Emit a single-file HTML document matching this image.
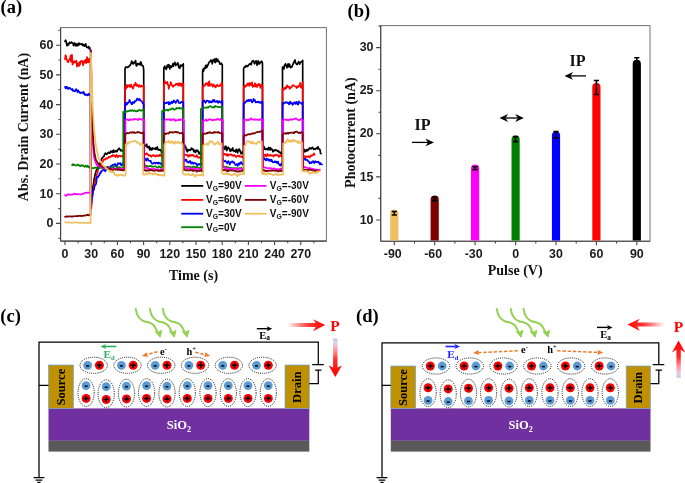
<!DOCTYPE html>
<html><head><meta charset="utf-8"><title>figure</title>
<style>html,body{margin:0;padding:0;background:#fff}svg{display:block}</style></head>
<body><svg width="685" height="483" viewBox="0 0 685 483">
<rect width="685" height="483" fill="#fff"/>
<rect x="60.6" y="27.6" width="265.79999999999995" height="213.5" fill="none" stroke="#707070" stroke-width="1"/>
<line x1="60.6" y1="27.6" x2="60.6" y2="241.1" stroke="#454545" stroke-width="1.1"/>
<line x1="60.6" y1="241.1" x2="326.4" y2="241.1" stroke="#454545" stroke-width="1.1"/>
<path d="M56.0 223.4H60.6 M56.0 193.7H60.6 M56.0 164.0H60.6 M56.0 134.3H60.6 M56.0 104.6H60.6 M56.0 74.9H60.6 M56.0 45.2H60.6 M58.4 238.2H60.6 M58.4 208.6H60.6 M58.4 178.8H60.6 M58.4 149.2H60.6 M58.4 119.5H60.6 M58.4 89.8H60.6 M58.4 60.0H60.6 M58.4 30.3H60.6 M65.0 241.1v4 M91.2 241.1v4 M117.4 241.1v4 M143.6 241.1v4 M169.8 241.1v4 M196.0 241.1v4 M222.2 241.1v4 M248.4 241.1v4 M274.6 241.1v4 M300.8 241.1v4 M78.1 241.1v2.2 M104.3 241.1v2.2 M130.5 241.1v2.2 M156.7 241.1v2.2 M182.9 241.1v2.2 M209.1 241.1v2.2 M235.3 241.1v2.2 M261.5 241.1v2.2 M287.7 241.1v2.2 M313.9 241.1v2.2" stroke="#454545" stroke-width="1.1" fill="none"/>
<g font-family='"Liberation Sans", sans-serif' font-weight="bold" font-size="12.4" fill="#1a1a1a">
<text x="53.4" y="227.4" text-anchor="end">0</text>
<text x="53.4" y="197.7" text-anchor="end">10</text>
<text x="53.4" y="168.0" text-anchor="end">20</text>
<text x="53.4" y="138.3" text-anchor="end">30</text>
<text x="53.4" y="108.6" text-anchor="end">40</text>
<text x="53.4" y="78.9" text-anchor="end">50</text>
<text x="53.4" y="49.2" text-anchor="end">60</text>
<text x="65.0" y="258" text-anchor="middle">0</text>
<text x="91.2" y="258" text-anchor="middle">30</text>
<text x="117.4" y="258" text-anchor="middle">60</text>
<text x="143.6" y="258" text-anchor="middle">90</text>
<text x="169.8" y="258" text-anchor="middle">120</text>
<text x="196.0" y="258" text-anchor="middle">150</text>
<text x="222.2" y="258" text-anchor="middle">180</text>
<text x="248.4" y="258" text-anchor="middle">210</text>
<text x="274.6" y="258" text-anchor="middle">240</text>
<text x="300.8" y="258" text-anchor="middle">270</text>
</g>
<text x="193.5" y="280.3" text-anchor="middle" font-family='"Liberation Serif", serif' font-weight="bold" font-size="14" fill="#111">Time (s)</text>
<text transform="translate(28.2 127) rotate(-90)" text-anchor="middle" font-family='"Liberation Serif", serif' font-weight="bold" font-size="14" fill="#111">Abs. Drain Current (nA)</text>
<path d="M65.0 41.4 65.5 40.2 66.0 40.6 66.5 43.5 67.0 45.7 67.5 43.9 68.0 44.3 68.5 45.0 69.0 43.2 69.5 42.3 70.0 42.9 70.5 43.1 71.0 43.1 71.5 42.0 72.0 42.5 72.5 43.0 73.0 43.2 73.5 45.6 74.0 43.7 74.5 43.1 75.0 43.1 75.5 45.8 76.0 45.6 76.5 44.0 77.0 45.9 77.5 45.1 78.1 43.6 78.6 45.3 79.1 43.2 79.6 43.4 80.1 44.2 80.6 44.2 81.1 44.0 81.6 44.5 82.1 43.7 82.6 45.2 83.1 45.7 83.6 44.5 84.1 45.0 84.6 46.2 85.1 45.0 85.6 43.8 86.1 45.3 86.6 47.2 87.1 47.2 87.6 47.4 88.1 47.8 88.6 46.5 89.1 48.6 89.6 47.4 90.1 49.7 90.6 50.6 90.8 197.0 91.2 197.2 91.7 193.1 92.2 190.3 92.7 187.5 93.2 185.4 93.7 182.5 94.2 178.8 94.7 176.6 95.2 173.9 95.7 172.5 96.2 170.8 96.7 169.4 97.2 169.6 97.7 166.9 98.2 165.2 98.7 163.8 99.2 164.6 99.7 164.5 100.1 163.3 100.6 161.9 101.1 160.1 101.6 159.2 102.1 157.9 102.6 158.0 103.1 157.0 103.6 156.1 104.1 156.3 104.6 154.1 105.1 153.9 105.6 153.0 106.1 154.0 106.6 154.4 107.1 154.1 107.6 153.6 108.1 152.6 108.6 152.3 109.1 152.7 109.6 153.2 110.1 153.0 110.6 151.2 111.1 152.1 111.6 151.5 112.1 151.0 112.6 152.4 113.1 151.6 113.6 150.1 114.1 152.2 114.6 151.7 115.1 151.2 115.6 151.6 116.1 150.5 116.5 150.5 117.0 151.7 117.5 150.2 118.0 149.6 118.5 149.0 119.0 148.2 119.5 148.8 120.0 149.3 120.5 150.8 121.0 149.8 121.5 150.4 122.0 150.5 122.5 151.3 123.0 151.4 123.5 151.0 124.0 149.2 124.5 151.3 125.0 151.8 125.0 68.7 125.5 67.3 126.0 66.9 126.5 67.2 127.0 67.4 127.5 67.4 128.0 66.7 128.5 67.1 129.0 66.4 129.5 65.4 130.1 65.4 130.6 64.2 131.1 63.6 131.6 61.2 132.1 62.2 132.6 63.5 133.1 64.0 133.6 63.6 134.1 62.0 134.6 62.9 135.1 62.6 135.6 60.5 136.1 65.4 136.6 66.0 137.1 64.5 137.6 63.6 138.1 63.5 138.6 64.5 139.2 63.6 139.7 63.7 140.2 65.0 140.7 61.8 141.2 63.0 141.7 65.0 142.2 65.4 142.7 65.9 143.2 66.0 143.7 69.8 143.7 145.5 144.2 144.4 144.7 146.3 145.2 146.2 145.7 145.2 146.2 144.9 146.7 144.2 147.2 147.3 147.7 147.6 148.2 147.8 148.7 147.1 149.2 146.3 149.7 149.9 150.2 147.8 150.7 149.6 151.2 148.3 151.7 150.0 152.2 149.2 152.7 147.9 153.2 148.7 153.8 148.8 154.3 148.3 154.8 148.7 155.3 149.3 155.8 147.9 156.3 147.8 156.8 149.2 157.3 146.8 157.8 149.7 158.3 149.1 158.8 150.0 159.3 150.2 159.8 149.7 160.3 150.0 160.8 149.8 161.3 152.0 161.8 153.2 162.3 151.6 162.8 152.5 163.3 153.1 163.8 153.9 163.8 67.9 164.3 67.4 164.8 66.1 165.3 68.4 165.8 68.2 166.3 69.5 166.8 67.4 167.3 65.2 167.8 67.2 168.3 65.0 168.8 64.7 169.3 66.0 169.8 69.0 170.3 66.0 170.8 66.4 171.3 67.3 171.8 66.3 172.3 65.7 172.8 63.9 173.3 66.3 173.8 64.5 174.3 63.1 174.8 62.3 175.3 64.1 175.8 65.6 176.3 64.1 176.8 64.4 177.3 64.6 177.8 62.9 178.3 64.2 178.8 67.6 179.3 66.7 179.8 68.3 180.3 65.7 180.8 65.1 181.3 66.1 181.8 65.9 182.3 64.8 182.8 65.3 183.3 63.9 183.3 147.4 183.8 146.5 184.3 145.7 184.8 145.2 185.3 147.4 185.8 147.0 186.3 149.8 186.8 150.4 187.3 151.8 187.8 149.4 188.2 150.6 188.7 150.0 189.2 150.0 189.7 149.9 190.2 150.4 190.7 149.9 191.2 148.1 191.7 149.1 192.2 149.1 192.7 148.7 193.2 149.8 193.7 151.5 194.2 151.7 194.7 150.2 195.2 152.3 195.7 152.3 196.2 150.7 196.7 150.2 197.2 150.9 197.7 150.4 198.1 150.9 198.6 152.6 199.1 153.9 199.6 153.7 200.1 152.0 200.6 152.8 201.1 153.6 201.6 153.9 202.1 154.9 202.6 154.0 202.6 71.1 203.1 69.0 203.6 71.2 204.1 68.2 204.6 67.6 205.1 68.6 205.6 65.4 206.1 65.2 206.6 67.6 207.1 66.9 207.7 64.9 208.2 64.8 208.7 63.0 209.2 62.0 209.7 61.5 210.2 61.6 210.7 60.2 211.2 60.3 211.7 60.5 212.2 63.9 212.7 61.5 213.2 59.7 213.7 60.8 214.2 61.7 214.7 59.0 215.2 62.7 215.7 61.6 216.2 58.5 216.7 61.5 217.2 61.1 217.8 59.4 218.3 61.5 218.8 61.7 219.3 61.6 219.8 64.0 220.3 64.2 220.8 63.9 221.3 63.1 221.8 64.0 222.3 64.8 222.3 148.4 222.8 148.4 223.3 147.2 223.8 147.5 224.3 148.7 224.8 149.4 225.3 146.2 225.8 146.3 226.3 146.9 226.8 150.7 227.3 149.3 227.7 148.8 228.2 147.4 228.7 148.0 229.2 148.9 229.7 148.8 230.2 151.3 230.7 149.6 231.2 149.5 231.7 150.6 232.2 149.0 232.7 147.8 233.2 150.6 233.7 151.3 234.2 150.7 234.7 150.6 235.2 151.2 235.7 152.1 236.2 149.4 236.7 149.3 237.2 151.6 237.7 152.9 238.2 150.5 238.6 150.0 239.1 149.0 239.6 149.5 240.1 151.6 240.6 151.4 241.1 153.9 241.6 153.7 242.1 152.9 242.6 151.9 243.1 152.8 243.6 152.6 243.6 68.3 244.1 67.7 244.6 66.8 245.1 66.6 245.6 67.1 246.1 65.5 246.6 65.5 247.1 66.5 247.6 66.5 248.1 65.6 248.6 65.1 249.1 64.4 249.6 64.0 250.1 63.5 250.6 63.5 251.1 64.8 251.6 63.1 252.1 61.2 252.6 60.9 253.1 61.5 253.5 60.7 254.0 62.1 254.5 63.9 255.0 62.1 255.5 62.7 256.0 60.8 256.5 62.3 257.0 65.2 257.5 64.6 258.0 60.8 258.5 61.5 259.0 63.5 259.5 63.9 260.0 62.6 260.5 62.1 261.0 62.5 261.5 61.2 262.0 61.8 262.5 63.2 262.5 147.3 263.0 146.2 263.5 146.4 264.0 146.6 264.5 149.0 265.0 149.3 265.5 148.7 266.0 149.6 266.5 148.7 267.0 148.9 267.5 148.8 268.0 149.9 268.5 147.5 269.0 147.8 269.5 149.4 270.0 150.0 270.5 147.7 271.0 149.6 271.5 149.3 272.0 149.1 272.5 150.0 273.0 151.8 273.5 151.2 274.0 150.8 274.5 149.9 275.0 149.8 275.5 150.5 276.0 150.1 276.5 150.2 277.0 150.7 277.5 151.1 278.0 151.5 278.5 150.8 279.0 152.3 279.5 152.6 280.0 152.0 280.5 153.3 281.0 152.9 281.5 154.3 282.0 153.6 282.5 152.0 282.5 67.0 283.0 67.2 283.5 67.3 284.0 68.9 284.5 65.1 285.0 64.9 285.5 63.8 286.0 65.8 286.5 65.7 287.0 67.8 287.6 65.3 288.1 63.8 288.6 66.8 289.1 65.7 289.6 64.2 290.1 66.6 290.6 67.7 291.1 67.3 291.6 66.3 292.1 66.9 292.6 65.1 293.1 63.9 293.6 62.7 294.1 61.9 294.6 60.4 295.1 60.0 295.6 63.0 296.1 63.4 296.6 64.3 297.1 64.6 297.6 63.4 298.2 62.6 298.7 61.5 299.2 63.6 299.7 64.2 300.2 62.7 300.7 62.2 301.2 62.0 301.7 61.5 302.2 62.1 302.7 60.3 302.7 148.2 303.2 148.5 303.7 149.3 304.2 149.3 304.7 151.9 305.2 151.4 305.7 150.2 306.2 151.2 306.7 150.0 307.2 149.4 307.6 150.6 308.1 150.0 308.6 149.6 309.1 148.6 309.6 147.9 310.1 148.1 310.6 149.0 311.1 148.7 311.6 148.4 312.1 147.3 312.6 147.3 313.1 148.2 313.6 149.4 314.1 148.9 314.6 149.0 315.1 149.4 315.6 148.5 316.1 148.4 316.5 147.9 317.0 147.7 317.5 148.8 318.0 146.8 318.5 148.7 319.0 148.5 319.5 149.7 320.0 149.5 320.5 153.3 321.0 153.7" fill="none" stroke="#000000" stroke-width="1.65" stroke-linejoin="round" stroke-linecap="round"/>
<path d="M65.0 59.4 65.5 55.0 66.0 56.2 66.5 58.7 67.0 60.3 67.5 61.3 68.0 62.3 68.5 61.3 69.0 59.7 69.5 59.1 70.0 59.0 70.5 55.5 71.0 61.6 71.5 61.2 72.0 54.7 72.5 64.6 73.0 63.5 73.5 61.8 74.0 61.6 74.5 61.1 75.0 62.7 75.5 61.7 76.0 62.2 76.5 60.7 77.0 66.8 77.5 65.6 78.1 63.3 78.6 65.4 79.1 65.9 79.6 62.0 80.1 64.4 80.6 61.7 81.1 60.8 81.6 61.5 82.1 61.0 82.6 62.2 83.1 65.4 83.6 62.6 84.1 60.8 84.6 62.6 85.1 61.8 85.6 59.6 86.1 63.1 86.6 60.3 87.1 57.0 87.6 62.1 88.1 61.6 88.6 62.3 89.1 58.5 89.6 60.7 90.1 59.9 90.6 63.6 90.8 208.8 91.2 208.7 91.7 203.8 92.2 198.4 92.7 195.2 93.2 191.4 93.7 188.3 94.2 185.4 94.7 182.9 95.2 181.0 95.7 178.6 96.2 177.4 96.7 174.7 97.2 173.8 97.7 171.9 98.2 169.2 98.7 168.7 99.2 167.7 99.7 166.1 100.1 165.5 100.6 165.3 101.1 164.1 101.6 163.0 102.1 162.1 102.6 162.2 103.1 160.5 103.6 159.5 104.1 159.7 104.6 159.5 105.1 159.6 105.6 158.4 106.1 158.9 106.6 158.2 107.1 158.4 107.6 158.6 108.1 157.7 108.6 156.8 109.1 157.0 109.6 157.5 110.1 156.7 110.6 156.8 111.1 156.6 111.6 155.7 112.1 155.4 112.6 156.2 113.1 154.9 113.6 155.6 114.1 155.4 114.6 156.1 115.1 156.1 115.6 157.1 116.1 155.4 116.5 154.8 117.0 156.1 117.5 156.8 118.0 157.2 118.5 155.8 119.0 156.0 119.5 155.9 120.0 155.9 120.5 155.9 121.0 156.4 121.5 156.0 122.0 156.6 122.5 156.1 123.0 155.6 123.5 155.3 124.0 155.5 124.5 156.1 125.0 155.7 125.0 86.8 125.5 86.7 126.0 88.6 126.5 85.7 127.0 84.9 127.5 87.5 128.0 85.8 128.5 85.9 129.0 85.2 129.5 84.9 130.1 87.1 130.6 86.7 131.1 84.5 131.6 85.9 132.1 87.1 132.6 88.2 133.1 88.6 133.6 87.0 134.1 84.6 134.6 84.8 135.1 85.1 135.6 82.7 136.1 84.8 136.6 85.9 137.1 85.0 137.6 84.5 138.1 86.0 138.6 86.9 139.2 85.6 139.7 85.1 140.2 86.8 140.7 86.4 141.2 86.7 141.7 85.7 142.2 86.0 142.7 86.1 143.2 86.6 143.7 85.2 143.7 153.0 144.2 153.8 144.7 153.4 145.2 154.3 145.7 154.3 146.2 153.9 146.7 153.2 147.2 154.2 147.7 154.5 148.2 154.5 148.7 155.7 149.2 155.3 149.7 155.6 150.2 155.1 150.7 155.9 151.2 156.8 151.7 156.0 152.2 155.5 152.7 155.8 153.2 155.0 153.8 155.4 154.3 155.8 154.8 155.4 155.3 156.5 155.8 156.5 156.3 156.1 156.8 155.3 157.3 155.7 157.8 155.5 158.3 156.2 158.8 155.9 159.3 154.9 159.8 155.9 160.3 154.5 160.8 155.8 161.3 156.0 161.8 156.1 162.3 155.6 162.8 156.9 163.3 158.1 163.8 157.0 163.8 84.1 164.3 83.7 164.8 81.1 165.3 82.7 165.8 83.4 166.3 82.9 166.8 83.3 167.3 81.9 167.8 84.7 168.3 85.0 168.8 88.8 169.3 85.8 169.8 85.7 170.3 84.2 170.8 82.1 171.3 83.6 171.8 84.8 172.3 85.7 172.8 86.6 173.3 86.9 173.8 85.4 174.3 85.3 174.8 85.2 175.3 85.3 175.8 84.0 176.3 83.8 176.8 84.4 177.3 83.7 177.8 84.2 178.3 85.6 178.8 83.3 179.3 83.4 179.8 85.2 180.3 83.6 180.8 83.8 181.3 86.2 181.8 83.6 182.3 83.9 182.8 83.4 183.3 84.0 183.3 154.6 183.8 155.6 184.3 154.6 184.8 154.7 185.3 155.0 185.8 154.8 186.3 154.9 186.8 154.6 187.3 155.2 187.8 155.3 188.2 156.8 188.7 156.5 189.2 155.6 189.7 154.8 190.2 155.6 190.7 155.9 191.2 154.9 191.7 155.7 192.2 155.5 192.7 154.8 193.2 155.6 193.7 155.2 194.2 156.4 194.7 156.4 195.2 156.6 195.7 156.7 196.2 156.1 196.7 155.0 197.2 156.5 197.7 157.3 198.1 157.0 198.6 157.9 199.1 157.4 199.6 157.1 200.1 157.6 200.6 157.3 201.1 158.6 201.6 157.8 202.1 158.9 202.6 159.0 202.6 86.8 203.1 86.9 203.6 85.3 204.1 85.4 204.6 86.0 205.1 85.1 205.6 83.3 206.1 84.3 206.6 84.2 207.1 83.1 207.7 83.7 208.2 86.0 208.7 82.6 209.2 81.3 209.7 85.7 210.2 85.6 210.7 85.0 211.2 84.1 211.7 84.0 212.2 85.2 212.7 86.6 213.2 85.8 213.7 84.3 214.2 85.9 214.7 86.7 215.2 85.8 215.7 87.5 216.2 86.3 216.7 85.9 217.2 84.6 217.8 85.4 218.3 86.1 218.8 86.0 219.3 85.5 219.8 86.1 220.3 85.7 220.8 84.6 221.3 83.6 221.8 82.6 222.3 85.1 222.3 153.6 222.8 155.2 223.3 153.2 223.8 154.0 224.3 154.0 224.8 153.7 225.3 154.8 225.8 154.3 226.3 154.4 226.8 155.6 227.3 155.0 227.7 154.1 228.2 155.7 228.7 154.9 229.2 154.9 229.7 154.8 230.2 154.7 230.7 154.2 231.2 155.0 231.7 154.7 232.2 155.4 232.7 155.1 233.2 156.0 233.7 156.0 234.2 154.9 234.7 155.2 235.2 155.8 235.7 156.7 236.2 157.0 236.7 156.6 237.2 155.9 237.7 155.9 238.2 155.8 238.6 156.2 239.1 155.5 239.6 156.3 240.1 156.8 240.6 156.2 241.1 156.4 241.6 156.8 242.1 157.1 242.6 157.2 243.1 156.6 243.6 156.5 243.6 87.6 244.1 86.3 244.6 85.8 245.1 86.9 245.6 85.3 246.1 85.7 246.6 85.9 247.1 84.6 247.6 83.3 248.1 84.9 248.6 84.4 249.1 85.8 249.6 82.8 250.1 84.6 250.6 83.6 251.1 85.3 251.6 84.4 252.1 82.3 252.6 87.0 253.1 86.8 253.5 85.6 254.0 85.6 254.5 86.3 255.0 83.2 255.5 84.1 256.0 86.6 256.5 84.8 257.0 87.0 257.5 84.6 258.0 85.5 258.5 85.2 259.0 83.7 259.5 84.3 260.0 86.5 260.5 88.0 261.0 85.3 261.5 84.5 262.0 86.0 262.5 84.8 262.5 154.8 263.0 154.5 263.5 156.4 264.0 156.0 264.5 155.1 265.0 154.7 265.5 154.5 266.0 156.6 266.5 155.9 267.0 155.4 267.5 153.8 268.0 155.3 268.5 155.7 269.0 155.7 269.5 155.1 270.0 155.6 270.5 154.8 271.0 155.7 271.5 155.4 272.0 155.7 272.5 155.4 273.0 155.8 273.5 156.6 274.0 155.2 274.5 155.0 275.0 155.4 275.5 155.1 276.0 154.5 276.5 155.5 277.0 155.5 277.5 155.1 278.0 155.0 278.5 155.6 279.0 157.0 279.5 155.6 280.0 155.6 280.5 155.8 281.0 156.1 281.5 156.0 282.0 156.4 282.5 157.1 282.5 88.8 283.0 89.0 283.5 89.0 284.0 89.6 284.5 87.8 285.0 89.1 285.5 87.3 286.0 88.4 286.5 87.2 287.0 85.4 287.6 85.8 288.1 87.1 288.6 86.9 289.1 86.7 289.6 88.8 290.1 88.5 290.6 87.4 291.1 87.7 291.6 87.1 292.1 86.1 292.6 85.5 293.1 85.0 293.6 85.0 294.1 86.0 294.6 86.1 295.1 86.4 295.6 86.6 296.1 86.4 296.6 88.1 297.1 87.2 297.6 86.4 298.2 87.1 298.7 86.3 299.2 85.2 299.7 85.4 300.2 82.9 300.7 87.1 301.2 86.4 301.7 87.9 302.2 85.3 302.7 82.0 302.7 157.3 303.2 156.6 303.7 156.0 304.2 156.3 304.7 156.0 305.2 157.8 305.6 156.7 306.1 156.5 306.6 156.8 307.1 157.1 307.6 156.3 308.1 156.6 308.6 156.2 309.1 156.4 309.6 157.6 310.1 156.7 310.6 156.0 311.1 155.3 311.6 155.9 312.0 155.7 312.5 155.1 313.0 155.1 313.5 154.3 314.0 153.4 314.5 154.8" fill="none" stroke="#FF0000" stroke-width="1.65" stroke-linejoin="round" stroke-linecap="round"/>
<path d="M65.0 86.9 65.5 88.3 66.0 88.5 66.5 86.7 67.0 86.8 67.5 87.7 68.0 89.0 68.5 88.9 69.0 87.8 69.5 88.2 70.0 87.9 70.5 88.8 71.0 89.0 71.5 89.8 72.0 89.7 72.5 88.9 73.0 91.0 73.5 90.9 74.0 90.6 74.5 91.3 75.0 91.4 75.5 90.6 76.0 89.1 76.5 89.7 77.0 90.3 77.5 92.3 78.1 90.3 78.6 91.0 79.1 91.5 79.6 92.8 80.1 92.5 80.6 93.4 81.1 92.8 81.6 92.3 82.1 92.4 82.6 92.3 83.1 93.4 83.6 91.9 84.1 93.1 84.6 94.8 85.1 94.2 85.6 94.5 86.1 95.1 86.6 94.9 87.1 94.3 87.6 95.5 88.1 95.2 88.6 93.8 89.1 93.9 89.6 94.8 90.1 95.1 90.6 95.6 90.8 203.2 91.2 204.9 91.7 200.2 92.2 196.0 92.7 193.2 93.2 190.8 93.7 189.9 94.2 188.6 94.7 185.7 95.2 185.0 95.7 184.8 96.2 183.3 96.7 178.8 97.2 176.5 97.7 177.2 98.2 177.1 98.7 175.7 99.2 175.5 99.7 173.2 100.1 172.9 100.6 173.4 101.1 171.2 101.6 171.5 102.1 170.7 102.6 170.3 103.1 170.1 103.6 169.3 104.1 169.6 104.6 170.6 105.1 171.3 105.6 170.7 106.1 169.8 106.6 168.6 107.1 167.8 107.6 166.8 108.1 166.7 108.6 167.3 109.1 167.5 109.6 168.7 110.1 167.6 110.6 166.4 111.1 165.6 111.6 165.8 112.1 165.9 112.6 164.9 113.1 165.2 113.6 164.7 114.1 164.5 114.6 164.7 115.1 163.8 115.6 165.0 116.1 165.4 116.5 166.0 117.0 166.2 117.5 164.2 118.0 163.1 118.5 164.0 119.0 164.0 119.5 163.4 120.0 163.4 120.5 163.1 121.0 165.1 121.5 165.5 122.0 164.8 122.5 163.5 123.0 164.0 123.5 165.2 124.0 165.3 124.5 165.6 125.0 165.9 125.0 103.5 125.5 102.6 126.0 102.8 126.5 104.9 127.0 103.7 127.5 103.8 128.0 102.3 128.5 102.6 129.0 102.0 129.5 99.8 130.1 101.5 130.6 102.4 131.1 103.0 131.6 104.2 132.1 104.2 132.6 102.2 133.1 102.0 133.6 102.9 134.1 103.0 134.6 101.2 135.1 101.6 135.6 101.4 136.1 100.8 136.6 99.6 137.1 98.5 137.6 98.8 138.1 99.8 138.6 100.2 139.2 99.1 139.7 98.9 140.2 100.5 140.7 100.6 141.2 100.9 141.7 101.3 142.2 102.1 142.7 103.3 143.2 103.2 143.7 104.2 143.7 157.7 144.2 158.0 144.7 159.6 145.2 158.5 145.7 158.5 146.2 160.7 146.7 159.1 147.2 159.1 147.7 158.4 148.2 160.5 148.7 160.4 149.2 160.6 149.7 160.9 150.2 161.2 150.7 160.8 151.2 162.5 151.7 163.2 152.2 163.8 152.7 163.5 153.2 163.5 153.8 162.8 154.3 162.6 154.8 162.7 155.3 163.4 155.8 163.6 156.3 162.8 156.8 162.5 157.3 163.0 157.8 163.5 158.3 162.5 158.8 163.6 159.3 163.2 159.8 162.8 160.3 163.6 160.8 163.3 161.3 164.6 161.8 163.7 162.3 163.9 162.8 165.4 163.3 164.5 163.8 165.3 163.8 102.3 164.3 103.3 164.8 103.3 165.3 102.9 165.8 103.1 166.3 102.7 166.8 103.1 167.3 102.2 167.8 102.2 168.3 102.0 168.8 104.5 169.3 102.4 169.8 102.4 170.3 104.0 170.8 103.2 171.3 102.5 171.8 101.6 172.3 103.1 172.8 101.6 173.3 102.4 173.8 100.4 174.3 101.6 174.8 101.4 175.3 102.2 175.8 103.1 176.3 101.6 176.8 100.9 177.3 100.0 177.8 100.1 178.3 101.3 178.8 103.0 179.3 103.0 179.8 103.0 180.3 103.2 180.8 102.1 181.3 101.8 181.8 102.2 182.3 102.0 182.8 102.2 183.3 102.1 183.3 158.7 183.8 158.5 184.3 159.7 184.8 161.1 185.3 159.7 185.8 160.1 186.3 159.6 186.8 161.6 187.3 161.7 187.8 161.6 188.2 162.7 188.7 162.8 189.2 161.9 189.7 161.4 190.2 160.8 190.7 162.3 191.2 163.6 191.7 162.9 192.2 162.3 192.7 162.6 193.2 163.9 193.7 163.1 194.2 162.8 194.7 162.8 195.2 163.7 195.7 163.6 196.2 163.3 196.7 164.2 197.2 165.6 197.7 164.7 198.1 164.2 198.6 164.4 199.1 163.9 199.6 164.7 200.1 164.8 200.6 165.1 201.1 164.6 201.6 163.7 202.1 164.6 202.6 163.4 202.6 101.5 203.1 101.3 203.6 101.4 204.1 100.3 204.6 101.4 205.1 101.8 205.6 102.9 206.1 101.9 206.6 100.6 207.1 100.6 207.7 100.7 208.2 101.3 208.7 101.2 209.2 102.6 209.7 101.0 210.2 101.5 210.7 102.3 211.2 102.4 211.7 102.5 212.2 101.0 212.7 100.0 213.2 101.7 213.7 100.4 214.2 99.8 214.7 100.8 215.2 102.0 215.7 102.0 216.2 101.8 216.7 100.8 217.2 100.9 217.8 102.6 218.3 101.5 218.8 102.6 219.3 101.0 219.8 102.1 220.3 102.3 220.8 102.6 221.3 102.5 221.8 100.9 222.3 100.6 222.3 158.8 222.8 159.0 223.3 160.6 223.8 160.7 224.3 160.9 224.8 161.4 225.3 160.7 225.8 161.3 226.3 161.8 226.8 162.3 227.3 163.4 227.7 162.1 228.2 161.1 228.7 161.5 229.2 162.6 229.7 164.6 230.2 163.4 230.7 162.1 231.2 162.3 231.7 161.9 232.2 161.4 232.7 161.4 233.2 162.7 233.7 162.3 234.2 162.3 234.7 164.1 235.2 164.3 235.7 165.2 236.2 164.7 236.7 164.0 237.2 164.8 237.7 166.0 238.2 164.1 238.6 163.9 239.1 163.0 239.6 164.6 240.1 163.7 240.6 162.5 241.1 162.0 241.6 163.4 242.1 163.7 242.6 164.3 243.1 163.7 243.6 163.4 243.6 102.7 244.1 103.9 244.6 102.5 245.1 102.8 245.6 101.9 246.1 101.8 246.6 100.4 247.1 100.1 247.6 101.3 248.1 101.1 248.6 99.7 249.1 101.1 249.6 100.9 250.1 100.0 250.6 99.5 251.1 99.9 251.6 101.7 252.1 102.5 252.6 101.6 253.1 100.9 253.5 98.8 254.0 100.8 254.5 100.0 255.0 100.0 255.5 102.2 256.0 102.6 256.5 101.9 257.0 102.2 257.5 102.1 258.0 101.5 258.5 102.4 259.0 101.8 259.5 102.6 260.0 102.9 260.5 102.2 261.0 102.9 261.5 102.5 262.0 101.3 262.5 102.1 262.5 158.2 263.0 157.8 263.5 158.5 264.0 157.9 264.5 159.5 265.0 159.0 265.5 159.7 266.0 160.4 266.5 158.9 267.0 160.2 267.5 159.1 268.0 159.4 268.5 159.1 269.0 160.9 269.5 160.2 270.0 159.7 270.5 160.7 271.0 161.3 271.5 159.7 272.0 160.7 272.5 161.7 273.0 162.4 273.5 162.0 274.0 162.0 274.5 162.2 275.0 161.2 275.5 162.3 276.0 162.3 276.5 161.6 277.0 163.1 277.5 162.4 278.0 161.5 278.5 163.4 279.0 164.3 279.5 164.7 280.0 165.5 280.5 164.3 281.0 165.4 281.5 164.3 282.0 163.1 282.5 164.8 282.5 103.1 283.0 104.6 283.5 102.9 284.0 103.4 284.5 103.2 285.0 102.8 285.5 102.1 286.0 102.5 286.5 102.4 287.0 102.8 287.6 102.4 288.1 103.4 288.6 102.8 289.1 104.4 289.6 103.9 290.1 101.5 290.6 102.0 291.1 103.5 291.6 102.9 292.1 103.7 292.6 104.8 293.1 104.4 293.6 102.9 294.1 102.4 294.6 102.5 295.1 103.3 295.6 103.8 296.1 101.9 296.6 101.9 297.1 102.9 297.6 104.4 298.2 104.6 298.7 101.3 299.2 102.9 299.7 102.8 300.2 102.5 300.7 102.7 301.2 103.0 301.7 104.1 302.2 104.4 302.7 102.1 302.7 158.6 303.2 157.9 303.7 159.6 304.2 159.5 304.7 159.2 305.2 158.5 305.7 159.9 306.2 159.5 306.7 159.5 307.2 160.5 307.6 160.2 308.1 161.2 308.6 161.7 309.1 161.5 309.6 163.4 310.1 162.4 310.6 162.6 311.1 163.2 311.6 162.7 312.1 161.6 312.6 162.0 313.1 161.0 313.6 162.3 314.1 163.2 314.6 161.5 315.1 161.6 315.6 161.2 316.1 162.4 316.6 161.9 317.1 162.0 317.5 161.9 318.0 162.3 318.5 161.7 319.0 162.8 319.5 163.6 320.0 164.5 320.5 163.0 321.0 163.7 321.5 164.3 322.0 164.6" fill="none" stroke="#0000FF" stroke-width="1.65" stroke-linejoin="round" stroke-linecap="round"/>
<path d="M72.0 164.9 72.5 165.1 73.0 164.0 73.5 164.7 74.0 165.1 74.5 164.6 75.0 164.9 75.5 165.1 76.0 165.4 76.5 165.7 77.0 164.9 77.5 164.7 78.0 164.4 78.5 165.1 79.0 165.3 79.5 165.9 80.0 165.4 80.5 166.2 81.0 165.7 81.6 165.3 82.1 165.0 82.6 165.9 83.1 165.5 83.6 166.1 84.1 166.4 84.6 166.9 85.1 166.1 85.6 165.5 86.1 166.3 86.6 166.8 87.1 166.9 87.6 165.7 88.1 165.9 88.6 166.7 89.1 167.7 89.6 167.7 90.1 167.0 90.6 166.3 91.0 167.8 91.5 168.2 92.0 168.0 92.5 168.1 93.0 168.1 93.5 168.2 94.0 167.9 94.5 167.9 95.0 167.7 95.5 167.5 96.0 167.4 96.5 168.5 97.0 168.2 97.5 168.3 98.0 167.6 98.5 168.3 99.0 168.2 99.6 168.0 100.1 167.9 100.6 167.3 101.1 167.6 101.6 167.2 102.1 168.0 102.6 168.6 103.1 167.5 103.6 167.4 104.1 167.2 104.6 167.3 105.1 167.2 105.6 167.9 106.1 167.3 106.6 167.7 107.1 167.2 107.6 167.3 108.1 168.3 108.6 168.5 109.1 167.5 109.6 167.6 110.1 167.8 110.6 167.6 111.1 167.7 111.6 167.9 112.1 167.7 112.6 167.6 113.1 166.9 113.6 167.2 114.1 166.5 114.6 166.3 115.2 166.1 115.7 166.4 116.2 166.9 116.7 167.2 117.2 167.4 117.7 167.8 118.2 167.7 118.7 167.9 119.2 167.0 119.7 167.1 120.2 167.5 120.7 168.4 121.2 168.0 121.7 168.0 122.2 168.2 122.7 168.4 123.2 169.0 123.2 111.8 123.7 111.9 124.2 111.9 124.7 112.3 125.2 111.5 125.7 111.7 126.2 111.0 126.7 111.6 127.2 111.7 127.7 111.2 128.2 111.3 128.7 110.7 129.2 110.6 129.7 111.0 130.2 110.5 130.7 110.2 131.2 111.1 131.7 110.2 132.2 110.2 132.7 110.1 133.2 111.0 133.7 111.0 134.2 110.9 134.7 110.3 135.2 111.0 135.7 111.1 136.2 111.5 136.7 111.1 137.2 110.7 137.7 111.2 138.2 111.0 138.7 110.5 139.2 109.8 139.7 109.8 140.2 110.1 140.7 110.6 141.2 110.7 141.7 110.6 142.2 110.3 142.7 110.1 143.2 109.5 143.7 109.6 143.7 165.6 144.2 164.9 144.7 164.9 145.2 165.2 145.7 165.7 146.2 166.4 146.7 166.5 147.2 165.9 147.7 166.3 148.2 166.7 148.6 166.4 149.1 166.3 149.6 166.1 150.1 166.1 150.6 165.8 151.1 166.5 151.6 166.2 152.1 166.8 152.6 166.5 153.1 166.6 153.6 166.6 154.1 166.4 154.6 166.6 155.1 166.4 155.6 166.4 156.1 166.7 156.6 167.1 157.1 167.4 157.5 167.5 158.0 167.4 158.5 167.4 159.0 166.3 159.5 166.6 160.0 166.7 160.5 167.4 161.0 167.7 161.5 167.8 162.0 167.6 162.0 111.5 162.5 110.6 163.0 110.9 163.5 110.4 164.0 111.3 164.5 110.8 165.0 110.5 165.5 110.2 166.0 109.9 166.5 109.8 167.0 109.7 167.4 110.4 167.9 110.2 168.4 110.6 168.9 109.7 169.4 109.4 169.9 109.4 170.4 109.6 170.9 109.6 171.4 108.7 171.9 108.3 172.4 108.7 172.9 108.4 173.4 109.2 173.9 109.8 174.4 109.5 174.9 109.5 175.4 109.3 175.9 109.0 176.4 107.8 176.9 108.4 177.4 108.5 177.9 108.4 178.3 108.5 178.8 108.2 179.3 107.7 179.8 108.5 180.3 108.4 180.8 108.4 181.3 108.2 181.8 108.8 182.3 109.1 182.8 109.5 183.3 108.6 183.3 165.7 183.8 165.8 184.3 166.8 184.8 166.6 185.3 166.7 185.8 167.1 186.3 167.1 186.8 166.6 187.3 166.5 187.8 166.6 188.3 166.6 188.8 167.0 189.3 167.0 189.8 167.0 190.3 166.9 190.8 167.1 191.3 167.2 191.8 167.3 192.3 167.5 192.8 166.7 193.3 166.9 193.8 167.0 194.3 166.5 194.8 166.5 195.3 167.6 195.8 167.4 196.3 167.3 196.8 166.9 197.3 166.9 197.8 167.1 198.3 168.0 198.8 168.3 199.3 168.1 199.8 167.9 200.3 168.4 200.8 168.4 200.8 108.9 201.3 108.7 201.8 108.5 202.3 108.6 202.8 108.9 203.3 108.1 203.8 107.6 204.3 107.9 204.8 107.6 205.3 107.6 205.8 107.5 206.3 107.5 206.8 107.8 207.3 107.5 207.8 107.2 208.3 107.6 208.8 106.8 209.3 106.4 209.8 106.2 210.3 106.1 210.8 106.4 211.3 107.0 211.8 107.3 212.3 107.5 212.8 107.3 213.3 107.2 213.8 106.9 214.3 107.7 214.8 106.5 215.3 105.9 215.8 106.5 216.3 106.5 216.8 106.6 217.3 106.7 217.8 106.9 218.3 107.0 218.8 107.3 219.3 107.1 219.8 107.0 220.3 106.9 220.8 107.2 221.3 107.1 221.8 107.0 222.3 106.8 222.3 166.8 222.8 166.5 223.3 166.2 223.8 166.3 224.3 166.7 224.8 167.0 225.3 167.1 225.8 166.9 226.3 166.5 226.8 167.0 227.3 167.4 227.8 167.3 228.3 167.4 228.8 167.8 229.3 168.0 229.8 167.9 230.3 167.6 230.8 168.1 231.3 168.4 231.9 168.0 232.4 168.4 232.9 168.2 233.4 168.0 233.9 168.1 234.4 168.5 234.9 168.4 235.4 168.4 235.9 168.2 236.4 168.5 236.9 168.0 237.4 168.7 237.9 168.6 238.4 168.5 238.9 168.1 239.4 168.4 239.9 168.2 240.4 168.5 240.9 168.2 241.4 167.7" fill="none" stroke="#008000" stroke-width="1.65" stroke-linejoin="round" stroke-linecap="round"/>
<path d="M65.0 195.0 65.5 195.6 66.0 195.1 66.5 195.6 67.0 194.9 67.5 194.8 68.0 194.1 68.5 194.6 69.0 194.7 69.5 194.4 70.0 194.7 70.5 194.8 71.0 194.8 71.5 194.6 72.0 194.8 72.5 194.4 73.0 194.2 73.5 194.2 74.0 193.7 74.5 194.0 75.0 193.7 75.5 194.1 76.0 193.9 76.5 194.5 77.0 194.2 77.5 194.1 78.1 194.2 78.6 194.2 79.1 194.2 79.6 194.2 80.1 194.7 80.6 194.4 81.1 194.2 81.6 194.1 82.1 194.2 82.6 193.9 83.1 193.5 83.6 193.5 84.1 193.6 84.6 193.0 85.1 192.8 85.6 192.7 86.1 192.5 86.6 192.9 87.1 192.9 87.6 192.6 88.1 192.8 88.6 192.8 89.1 192.6 89.6 192.5 90.1 192.6 90.6 192.2 90.9 56.2 91.0 50.1 91.5 93.1 92.0 120.0 92.5 135.9 93.0 145.8 93.5 152.5 94.0 157.2 94.5 159.6 95.0 161.0 95.5 162.1 96.0 163.1 96.5 164.7 97.0 165.3 97.5 165.1 98.0 166.0 98.5 165.8 99.0 165.5 99.5 165.9 100.0 166.0 100.5 166.7 101.0 167.5 101.5 167.5 102.0 167.6 102.5 167.7 103.0 167.5 103.5 167.7 104.0 167.8 104.5 167.8 105.0 167.9 105.5 167.4 106.0 167.7 106.5 167.9 107.0 168.2 107.5 168.5 108.0 168.0 108.5 168.1 109.0 168.7 109.5 168.8 110.0 168.7 110.5 168.8 111.0 168.3 111.5 168.8 112.0 168.5 112.5 168.5 113.0 169.0 113.5 168.8 114.0 168.8 114.5 168.5 115.0 168.8 115.5 168.6 116.0 169.2 116.5 169.3 117.0 168.7 117.5 168.3 118.0 168.5 118.5 168.8 119.0 168.4 119.5 169.3 120.0 169.3 120.5 168.8 121.0 168.5 121.5 169.0 122.0 169.5 122.5 168.6 123.0 168.6 123.5 169.0 124.0 168.8 124.5 168.5 125.0 169.5 125.5 168.7 125.5 120.1 126.0 119.7 126.5 119.4 127.0 119.3 127.5 119.3 128.0 120.0 128.5 120.4 129.0 120.3 129.5 119.8 130.0 119.0 130.4 119.8 130.9 119.5 131.4 119.8 131.9 119.9 132.4 119.8 132.9 119.3 133.4 119.3 133.9 118.9 134.4 119.6 134.9 119.1 135.4 118.9 135.9 119.2 136.4 119.1 136.9 119.5 137.4 119.9 137.9 119.9 138.4 119.9 138.9 118.5 139.4 119.2 139.8 118.7 140.3 119.1 140.8 119.2 141.3 119.1 141.8 119.7 142.3 119.3 142.8 119.3 143.3 120.2 143.8 119.7 144.3 119.5 144.3 167.4 144.8 167.0 145.3 167.6 145.8 167.6 146.3 167.5 146.8 168.1 147.3 167.7 147.8 168.5 148.3 168.9 148.8 168.5 149.3 168.9 149.8 168.8 150.3 169.4 150.8 169.1 151.3 169.3 151.8 169.0 152.3 169.4 152.8 169.0 153.3 169.0 153.8 168.9 154.3 169.0 154.8 168.9 155.3 169.4 155.8 170.1 156.3 169.5 156.8 169.6 157.3 169.5 157.8 169.1 158.3 169.8 158.8 169.7 159.3 169.7 159.8 169.8 160.3 169.4 160.8 169.3 161.3 169.6 161.8 169.8 162.3 169.2 162.8 169.5 163.3 169.2 163.8 169.1 164.3 169.9 164.3 120.5 164.8 120.2 165.3 119.9 165.8 119.6 166.3 119.4 166.8 119.1 167.3 119.6 167.8 119.7 168.3 119.4 168.8 119.6 169.3 119.2 169.8 120.0 170.3 119.4 170.8 119.5 171.3 120.3 171.8 119.5 172.3 119.3 172.8 119.4 173.3 119.9 173.8 119.8 174.4 119.0 174.9 119.6 175.4 121.0 175.9 120.6 176.4 120.5 176.9 120.0 177.4 119.9 177.9 120.1 178.4 120.1 178.9 119.4 179.4 120.1 179.9 119.0 180.4 119.5 180.9 120.0 181.4 119.5 181.9 119.4 182.4 120.0 182.9 119.5 183.4 120.4 183.9 120.5 183.9 167.2 184.4 167.5 184.9 168.2 185.4 167.9 185.9 167.6 186.4 167.9 186.9 168.7 187.4 168.6 187.9 168.4 188.4 168.2 189.0 167.7 189.5 168.3 190.0 168.7 190.5 168.8 191.0 168.4 191.5 168.9 192.0 168.4 192.5 169.6 193.0 169.0 193.5 169.2 194.0 168.9 194.5 168.7 195.0 169.3 195.5 169.2 196.0 169.0 196.5 168.8 197.0 169.3 197.5 169.6 198.0 170.0 198.6 168.7 199.1 169.0 199.6 169.2 200.1 169.7 200.6 169.2 201.1 169.4 201.6 168.8 202.1 168.8 202.6 169.1 203.1 169.0 203.1 120.5 203.6 120.4 204.1 120.4 204.6 120.6 205.1 120.2 205.6 120.1 206.1 119.3 206.6 120.9 207.1 120.5 207.6 120.5 208.1 120.2 208.5 119.7 209.0 119.4 209.5 119.4 210.0 119.6 210.5 119.3 211.0 119.2 211.5 120.1 212.0 119.9 212.5 120.2 213.0 120.3 213.5 119.8 214.0 119.6 214.5 119.5 215.0 119.8 215.5 119.7 216.0 120.0 216.5 119.6 217.0 119.2 217.5 118.7 217.9 118.6 218.4 119.4 218.9 119.7 219.4 120.0 219.9 119.7 220.4 118.9 220.9 119.0 221.4 120.3 221.9 120.5 222.4 120.7 222.9 120.0 222.9 167.6 223.4 167.5 223.9 167.0 224.4 167.8 224.9 168.2 225.4 167.4 225.9 167.7 226.4 168.2 226.9 169.0 227.4 169.3 227.9 169.7 228.5 169.1 229.0 168.9 229.5 168.5 230.0 168.7 230.5 169.0 231.0 169.2 231.5 168.3 232.0 169.2 232.5 169.0 233.0 168.9 233.5 168.7 234.0 169.0 234.5 168.8 235.0 168.6 235.5 168.9 236.0 169.1 236.5 169.1 237.0 169.5 237.5 169.3 238.0 169.3 238.5 169.2 239.1 168.7 239.6 168.5 240.1 169.0 240.6 168.9 241.1 169.0 241.6 168.8 242.1 169.1 242.6 169.1 243.1 169.4 243.6 169.6 244.1 169.2 244.1 119.5 244.6 119.5 245.1 119.5 245.6 119.6 246.1 119.9 246.6 120.6 247.1 119.9 247.6 119.7 248.1 119.9 248.6 120.1 249.1 119.3 249.6 120.1 250.1 119.1 250.6 119.0 251.1 118.2 251.6 119.1 252.1 119.3 252.6 119.6 253.1 119.5 253.6 119.5 254.1 119.8 254.6 119.2 255.1 119.6 255.6 119.8 256.1 119.4 256.6 119.6 257.1 119.7 257.6 119.5 258.1 119.7 258.6 120.1 259.1 119.9 259.6 119.8 260.1 119.0 260.6 119.8 261.1 119.3 261.6 119.8 262.1 119.9 262.6 120.0 263.1 119.8 263.1 167.3 263.6 166.9 264.1 167.6 264.6 167.3 265.1 167.3 265.6 167.4 266.1 168.1 266.6 167.9 267.1 168.1 267.6 168.2 268.1 168.5 268.6 168.3 269.1 168.1 269.6 168.1 270.1 168.5 270.6 168.3 271.1 168.1 271.6 168.8 272.1 168.3 272.6 169.1 273.1 168.8 273.5 168.7 274.0 168.3 274.5 168.5 275.0 168.9 275.5 169.3 276.0 169.6 276.5 169.1 277.0 169.2 277.5 169.4 278.0 169.1 278.5 169.4 279.0 169.5 279.5 169.5 280.0 168.8 280.5 168.5 281.0 168.9 281.5 169.7 282.0 169.4 282.5 169.3 283.0 169.2 283.0 119.8 283.5 120.0 284.0 119.6 284.5 119.4 285.0 119.5 285.5 119.8 286.0 120.0 286.5 119.5 287.0 120.1 287.5 119.9 288.0 120.0 288.4 120.4 288.9 119.7 289.4 119.6 289.9 119.5 290.4 119.1 290.9 119.9 291.4 119.7 291.9 119.5 292.4 119.1 292.9 119.7 293.4 119.3 293.9 119.3 294.4 118.8 294.9 118.7 295.4 118.8 295.9 118.2 296.4 118.8 296.9 119.3 297.4 119.6 297.9 119.9 298.3 119.8 298.8 120.4 299.3 120.1 299.8 119.7 300.3 119.2 300.8 119.6 301.3 119.1 301.8 119.7 302.3 119.7 302.8 120.5 303.3 120.5 303.3 167.3 303.8 166.7 304.3 166.8 304.8 167.5 305.3 167.3 305.8 167.3 306.3 167.6 306.8 167.7 307.3 167.9 307.9 168.2 308.4 168.8 308.9 168.6 309.4 168.0 309.9 167.8 310.4 168.3 310.9 168.7 311.4 168.8 311.9 168.6 312.4 168.7 312.9 169.1 313.4 169.0 313.9 169.3 314.4 169.2 314.9 169.5 315.4 170.0 316.0 169.8 316.5 169.5 317.0 170.1 317.5 170.0 318.0 169.7 318.5 170.0 319.0 170.3 319.5 169.6 320.0 169.7" fill="none" stroke="#FF00FF" stroke-width="1.65" stroke-linejoin="round" stroke-linecap="round"/>
<path d="M65.0 216.9 65.5 216.8 66.0 216.5 66.5 216.8 67.0 216.2 67.5 216.6 68.0 216.8 68.5 216.6 69.0 216.4 69.5 216.2 70.0 216.4 70.5 216.4 71.0 216.4 71.5 216.5 72.0 217.0 72.5 216.4 73.0 216.3 73.5 216.2 74.0 216.4 74.5 216.2 75.0 216.2 75.5 216.2 76.0 215.9 76.5 216.3 77.0 216.1 77.5 216.3 78.1 216.2 78.6 215.7 79.1 216.0 79.6 215.9 80.1 216.0 80.6 215.7 81.1 215.9 81.6 216.2 82.1 215.8 82.6 215.8 83.1 215.8 83.6 215.4 84.1 215.7 84.6 215.6 85.1 215.5 85.6 215.4 86.1 215.5 86.6 215.2 87.1 214.7 87.6 215.1 88.1 214.7 88.6 215.4 89.1 215.0 89.6 215.1 90.1 215.1 90.6 215.1 90.9 56.2 91.0 51.1 91.5 85.1 92.0 107.5 92.5 124.3 93.0 135.5 93.5 142.9 94.0 148.1 94.5 152.7 95.0 155.8 95.5 157.8 96.0 160.1 96.5 160.8 97.0 161.5 97.5 162.6 98.0 163.1 98.5 163.5 99.0 164.1 99.5 164.5 100.0 164.5 100.5 165.4 101.0 165.8 101.5 166.3 102.0 166.2 102.5 166.8 103.0 166.8 103.5 167.1 104.0 167.4 104.5 167.0 105.0 167.5 105.5 167.4 106.0 167.5 106.5 167.5 107.0 168.1 107.5 168.1 108.0 168.2 108.5 168.7 109.0 168.8 109.5 169.0 110.0 169.1 110.5 168.7 111.0 169.2 111.5 169.9 112.0 170.2 112.5 170.0 113.0 170.0 113.5 169.8 114.0 169.5 114.5 169.0 115.0 169.2 115.5 169.3 116.0 169.8 116.5 169.6 117.0 169.3 117.5 169.1 118.0 170.2 118.5 169.7 119.0 169.3 119.5 169.3 120.0 170.2 120.5 170.2 121.0 169.9 121.5 169.8 122.0 170.2 122.5 170.4 123.0 169.9 123.5 170.5 124.0 169.8 124.5 169.9 125.0 169.9 125.0 133.9 125.5 134.2 126.0 133.9 126.5 133.2 127.0 132.8 127.5 133.1 128.0 133.2 128.5 133.3 129.0 133.5 129.5 132.5 130.1 132.3 130.6 132.4 131.1 132.6 131.6 132.9 132.1 132.3 132.6 132.1 133.1 132.6 133.6 132.2 134.1 132.8 134.6 132.4 135.1 132.8 135.6 132.8 136.1 132.5 136.6 132.4 137.1 132.1 137.6 132.6 138.1 132.1 138.6 131.9 139.2 132.3 139.7 132.4 140.2 132.9 140.7 132.9 141.2 133.4 141.7 133.1 142.2 133.0 142.7 132.6 143.2 132.5 143.7 132.6 143.7 170.1 144.2 170.1 144.7 170.2 145.2 170.1 145.7 170.8 146.2 170.2 146.7 170.8 147.2 170.7 147.7 170.5 148.2 170.6 148.7 170.0 149.2 170.3 149.7 169.8 150.2 169.8 150.7 170.4 151.2 170.3 151.7 170.0 152.2 170.4 152.7 170.5 153.2 170.8 153.8 170.7 154.3 170.8 154.8 170.8 155.3 170.4 155.8 170.1 156.3 170.4 156.8 170.6 157.3 170.4 157.8 170.7 158.3 171.1 158.8 170.6 159.3 171.0 159.8 170.6 160.3 171.1 160.8 170.3 161.3 170.9 161.8 170.6 162.3 170.2 162.8 170.8 163.3 170.3 163.8 170.9 163.8 134.3 164.3 133.7 164.8 133.3 165.3 133.4 165.8 134.2 166.3 133.7 166.8 133.5 167.3 133.4 167.8 133.2 168.3 133.6 168.8 133.4 169.3 132.4 169.8 131.9 170.3 132.3 170.8 132.6 171.3 132.4 171.8 132.1 172.3 132.1 172.8 132.7 173.3 132.6 173.8 132.5 174.3 132.0 174.8 131.9 175.3 132.0 175.8 131.8 176.3 132.3 176.8 131.9 177.3 132.4 177.8 132.4 178.3 132.2 178.8 132.8 179.3 133.0 179.8 133.5 180.3 133.2 180.8 133.1 181.3 133.1 181.8 132.9 182.3 133.7 182.8 133.4 183.3 133.3 183.3 170.0 183.8 169.8 184.3 169.3 184.8 169.9 185.3 170.3 185.8 170.5 186.3 170.3 186.8 170.1 187.3 170.5 187.8 170.1 188.2 170.6 188.7 170.3 189.2 170.3 189.7 170.3 190.2 169.7 190.7 170.2 191.2 170.5 191.7 170.4 192.2 170.2 192.7 170.9 193.2 170.7 193.7 171.0 194.2 170.7 194.7 170.3 195.2 170.5 195.7 170.7 196.2 170.7 196.7 171.8 197.2 171.0 197.7 170.7 198.1 170.7 198.6 170.9 199.1 171.1 199.6 171.0 200.1 170.5 200.6 170.7 201.1 170.3 201.6 171.5 202.1 171.3 202.6 171.0 202.6 133.7 203.1 134.2 203.6 134.0 204.1 133.3 204.6 133.7 205.1 133.8 205.6 133.8 206.1 133.6 206.6 133.0 207.1 132.7 207.7 133.4 208.2 132.5 208.7 132.7 209.2 132.8 209.7 132.1 210.2 132.3 210.7 132.8 211.2 132.9 211.7 133.0 212.2 133.1 212.7 132.9 213.2 132.4 213.7 132.3 214.2 132.9 214.7 131.8 215.2 132.5 215.7 132.5 216.2 132.5 216.7 132.3 217.2 132.6 217.8 132.5 218.3 131.9 218.8 132.4 219.3 133.0 219.8 132.8 220.3 133.2 220.8 133.2 221.3 133.1 221.8 133.0 222.3 133.2 222.3 169.6 222.8 169.9 223.3 170.4 223.8 170.0 224.3 170.2 224.8 169.8 225.3 170.2 225.8 170.1 226.3 170.1 226.8 171.1 227.3 171.3 227.7 171.2 228.2 170.4 228.7 171.1 229.2 170.5 229.7 170.2 230.2 170.2 230.7 170.2 231.2 170.6 231.7 170.6 232.2 170.6 232.7 170.5 233.2 170.4 233.7 170.6 234.2 170.9 234.7 171.0 235.2 170.8 235.7 171.4 236.2 171.5 236.7 171.3 237.2 171.3 237.7 171.1 238.2 171.9 238.6 171.5 239.1 171.2 239.6 170.8 240.1 171.5 240.6 171.3 241.1 170.9 241.6 170.7 242.1 170.4 242.6 170.2 243.1 170.9 243.6 170.6 243.6 135.6 244.1 135.7 244.6 134.9 245.1 135.2 245.6 135.4 246.1 135.3 246.6 135.4 247.1 134.7 247.6 134.5 248.1 134.1 248.6 134.1 249.1 134.5 249.6 134.0 250.1 134.3 250.6 134.3 251.1 134.1 251.6 133.9 252.1 133.3 252.6 133.6 253.1 133.3 253.5 133.2 254.0 133.5 254.5 133.6 255.0 133.2 255.5 132.7 256.0 132.5 256.5 132.2 257.0 132.1 257.5 132.1 258.0 131.7 258.5 131.9 259.0 132.1 259.5 131.7 260.0 131.8 260.5 131.4 261.0 131.2 261.5 131.0 262.0 130.6 262.5 130.5 262.5 170.1 263.0 170.6 263.5 170.3 264.0 170.5 264.5 170.2 265.0 171.2 265.5 171.0 266.0 170.6 266.5 171.3 267.0 171.0 267.5 170.7 268.0 170.5 268.5 171.0 269.0 170.7 269.5 170.6 270.0 170.9 270.5 170.5 271.0 170.6 271.5 170.6 272.0 170.8 272.5 170.6 273.0 170.6 273.5 170.3 274.0 170.4 274.5 170.8 275.0 170.9 275.5 170.5 276.0 170.8 276.5 170.7 277.0 170.6 277.5 170.8 278.0 171.6 278.5 171.2 279.0 170.9 279.5 170.8 280.0 171.1 280.5 170.5 281.0 170.7 281.5 171.0 282.0 171.2 282.5 170.9 282.5 134.7 283.0 134.7 283.5 133.7 284.0 133.4 284.5 133.2 285.0 133.0 285.5 133.2 286.0 134.0 286.5 133.3 287.0 132.9 287.6 133.0 288.1 133.8 288.6 133.0 289.1 132.6 289.6 133.0 290.1 132.9 290.6 132.7 291.1 132.8 291.6 132.5 292.1 132.6 292.6 132.5 293.1 132.6 293.6 133.1 294.1 133.2 294.6 131.8 295.1 132.1 295.6 131.8 296.1 131.8 296.6 131.6 297.1 131.8 297.6 132.4 298.2 132.4 298.7 133.1 299.2 132.9 299.7 132.4 300.2 133.2 300.7 132.8 301.2 132.4 301.7 132.0 302.2 132.6 302.7 132.8 302.7 170.6 303.2 170.7 303.7 170.2 304.2 169.5 304.7 170.2 305.2 169.8 305.7 169.9 306.2 170.3 306.7 169.6 307.1 170.9 307.6 170.7 308.1 170.6 308.6 169.9 309.1 169.6 309.6 169.3 310.1 170.0 310.6 170.0 311.1 169.9 311.6 170.1 312.1 170.3 312.6 170.6 313.1 170.9 313.6 171.3 314.1 170.4 314.6 170.8 315.0 171.5 315.5 171.1 316.0 171.0 316.5 170.8 317.0 170.2 317.5 170.6 318.0 170.8 318.5 171.1 319.0 171.0" fill="none" stroke="#7B0000" stroke-width="1.65" stroke-linejoin="round" stroke-linecap="round"/>
<path d="M65.0 222.2 65.5 222.3 66.0 222.2 66.5 222.4 67.0 222.7 67.5 222.8 68.0 222.6 68.5 222.3 69.0 222.4 69.5 222.5 70.0 222.5 70.5 222.6 71.0 222.7 71.5 222.6 72.0 222.6 72.5 222.6 73.0 222.7 73.5 222.7 74.0 222.6 74.5 222.4 75.0 222.5 75.5 222.3 76.0 222.6 76.5 222.6 77.0 222.8 77.5 222.7 78.1 222.7 78.6 222.6 79.1 222.5 79.6 222.7 80.1 222.9 80.6 222.8 81.1 222.8 81.6 222.9 82.1 222.7 82.6 222.6 83.1 222.9 83.6 222.8 84.1 222.8 84.6 223.1 85.1 223.0 85.6 223.0 86.1 223.1 86.6 222.9 87.1 222.9 87.6 223.0 88.1 223.0 88.6 222.9 89.1 222.9 89.6 222.9 90.1 223.0 90.6 223.2 90.9 53.2 91.0 52.8 91.5 72.6 92.0 87.3 92.5 100.9 93.0 112.4 93.5 120.3 94.0 127.5 94.5 133.4 95.0 138.4 95.5 142.5 96.0 145.9 96.5 148.5 97.0 151.0 97.5 152.9 98.0 155.5 98.5 157.2 99.0 158.9 99.5 159.6 100.0 160.4 100.5 161.8 101.0 162.5 101.5 162.2 102.0 163.0 102.5 164.8 103.0 165.4 103.5 165.7 104.0 166.4 104.5 166.7 105.0 166.8 105.5 167.3 106.0 168.4 106.5 168.3 107.0 168.8 107.5 169.1 108.0 169.7 108.6 170.4 109.1 170.9 109.6 170.8 110.1 171.2 110.6 172.2 111.1 171.1 111.6 171.7 112.1 171.9 112.6 171.5 113.1 172.7 113.6 171.7 114.1 172.2 114.6 174.9 115.1 175.1 115.6 174.9 116.1 174.9 116.6 175.0 117.1 175.8 117.6 176.0 118.1 175.5 118.6 174.6 119.1 175.1 119.6 174.8 120.1 174.8 120.6 174.7 121.1 174.4 121.6 175.4 122.1 175.1 122.6 175.1 123.1 175.2 123.6 175.5 124.1 175.6 124.6 175.7 125.1 175.8 125.6 174.3 125.6 144.7 126.1 144.0 126.6 145.6 127.1 142.6 127.6 142.7 128.1 143.0 128.6 143.6 129.1 142.1 129.6 141.7 130.1 141.8 130.6 141.8 131.1 142.0 131.6 142.0 132.1 141.5 132.6 141.6 133.1 140.9 133.6 141.2 134.1 141.3 134.6 141.2 135.1 140.6 135.6 140.9 136.1 141.4 136.6 142.0 137.1 142.8 137.6 143.0 138.1 142.5 138.6 142.6 139.1 143.2 139.6 144.2 140.1 145.0 140.6 144.1 141.1 143.3 141.6 143.4 142.1 144.8 142.6 144.8 143.1 144.5 143.1 174.6 143.6 174.1 144.1 174.2 144.6 174.5 145.1 174.9 145.6 173.9 146.1 173.7 146.6 174.2 147.1 174.6 147.6 173.6 148.1 173.3 148.5 173.6 149.0 172.7 149.5 173.3 150.0 174.0 150.5 173.1 151.0 173.5 151.5 173.4 152.0 173.5 152.5 174.2 153.0 174.7 153.5 174.4 154.0 173.3 154.5 174.2 155.0 173.3 155.5 173.5 156.0 174.4 156.5 174.1 157.0 173.8 157.5 174.5 158.0 175.6 158.5 174.7 159.0 175.1 159.4 174.5 159.9 175.5 160.4 175.0 160.9 175.2 161.4 175.7 161.9 175.3 162.4 174.8 162.9 175.0 163.4 175.5 163.9 175.0 164.4 175.9 164.4 144.6 164.9 144.0 165.4 142.5 165.9 142.2 166.4 142.1 166.9 141.9 167.4 141.8 167.9 142.4 168.4 140.9 168.9 141.0 169.3 141.7 169.8 142.8 170.3 141.5 170.8 141.6 171.3 143.0 171.8 142.4 172.3 141.3 172.8 142.2 173.3 142.5 173.8 143.3 174.3 143.9 174.8 143.1 175.3 141.3 175.8 142.3 176.3 142.8 176.8 142.3 177.3 142.7 177.8 142.0 178.2 141.5 178.7 142.4 179.2 143.1 179.7 143.0 180.2 142.4 180.7 142.7 181.2 142.4 181.7 144.2 182.2 143.9 182.7 144.8 182.7 173.4 183.2 173.4 183.7 174.1 184.2 174.1 184.7 174.7 185.2 174.2 185.7 174.7 186.2 174.7 186.7 174.4 187.2 174.7 187.7 173.9 188.2 174.6 188.7 174.1 189.2 174.3 189.7 175.1 190.2 175.1 190.7 175.4 191.2 175.4 191.7 175.3 192.2 174.1 192.7 174.8 193.2 174.0 193.7 174.3 194.2 175.5 194.7 176.7 195.2 175.6 195.7 176.6 196.2 175.5 196.7 174.8 197.2 174.8 197.7 175.1 198.2 175.2 198.7 175.0 199.2 175.2 199.7 175.4 200.2 175.4 200.7 174.4 201.2 175.0 201.7 174.7 202.2 175.4 202.7 175.4 203.2 175.8 203.2 145.7 203.7 144.9 204.2 144.7 204.7 145.0 205.2 144.3 205.7 144.4 206.2 143.9 206.7 143.6 207.2 143.1 207.7 144.9 208.2 144.9 208.7 143.2 209.2 142.9 209.7 141.0 210.2 141.6 210.7 142.2 211.2 141.4 211.7 141.8 212.2 141.2 212.7 142.1 213.2 143.2 213.7 143.2 214.2 144.5 214.7 144.6 215.2 144.4 215.7 144.0 216.2 142.8 216.7 143.0 217.2 142.4 217.7 142.5 218.2 141.7 218.7 144.2 219.2 143.8 219.7 143.5 220.2 144.4 220.7 143.5 221.2 143.8 221.7 143.3 221.7 173.0 222.2 172.9 222.7 173.3 223.2 174.1 223.7 174.0 224.2 174.2 224.7 173.8 225.2 174.1 225.7 172.2 226.2 174.0 226.7 173.3 227.2 173.9 227.7 174.1 228.2 173.5 228.7 173.8 229.2 174.7 229.7 174.2 230.2 174.3 230.7 175.5 231.2 174.8 231.7 175.2 232.2 175.2 232.7 174.5 233.2 174.3 233.7 174.6 234.2 173.3 234.7 173.7 235.2 174.5 235.7 174.4 236.2 174.6 236.7 175.9 237.2 176.2 237.7 176.2 238.2 174.2 238.7 174.5 239.2 174.7 239.7 175.0 240.2 174.2 240.7 174.3 241.2 173.4 241.7 173.5 242.2 173.0 242.7 173.8 243.2 173.9 243.7 174.4 244.2 174.5 244.2 146.2 244.7 145.6 245.2 145.3 245.7 144.8 246.2 143.0 246.7 142.5 247.2 141.4 247.7 140.9 248.2 141.0 248.8 141.0 249.3 142.3 249.8 142.0 250.3 142.8 250.8 143.4 251.3 142.5 251.8 141.4 252.3 143.1 252.8 142.1 253.3 142.3 253.8 143.6 254.3 143.5 254.8 143.4 255.3 143.2 255.8 143.5 256.3 144.2 256.8 143.6 257.3 142.6 257.9 142.0 258.4 141.8 258.9 141.3 259.4 142.5 259.9 142.4 260.4 142.1 260.9 141.4 261.4 141.6 261.9 141.4 261.9 173.4 262.4 172.3 262.9 174.2 263.4 174.0 263.9 172.4 264.4 173.0 264.9 174.4 265.4 174.1 265.9 174.8 266.4 174.7 266.9 174.2 267.5 173.1 268.0 173.3 268.5 173.3 269.0 173.2 269.5 173.5 270.0 174.3 270.5 174.3 271.0 174.0 271.5 174.2 272.0 174.5 272.5 174.5 273.0 175.2 273.5 175.2 274.0 174.7 274.5 174.6 275.0 174.3 275.5 173.4 276.0 173.6 276.5 173.9 277.0 174.7 277.5 175.1 278.1 174.5 278.6 174.9 279.1 174.4 279.6 175.0 280.1 174.7 280.6 174.6 281.1 174.0 281.6 174.5 282.1 174.8 282.6 174.6 283.1 174.6 283.1 143.2 283.6 143.6 284.1 143.8 284.6 143.5 285.1 142.7 285.6 142.2 286.1 141.4 286.6 142.3 287.1 139.9 287.6 139.2 288.1 140.1 288.6 141.3 289.1 140.8 289.6 140.3 290.1 141.9 290.6 141.0 291.1 141.8 291.6 140.9 292.1 139.9 292.6 139.7 293.1 141.5 293.6 140.4 294.1 140.3 294.6 141.2 295.1 141.0 295.6 140.3 296.1 141.3 296.6 141.6 297.1 142.1 297.6 141.2 298.1 143.2 298.6 141.6 299.1 142.5 299.6 141.6 300.1 143.0 300.6 143.2 301.1 143.0 301.6 141.9 302.1 143.1 302.1 170.8 302.6 171.4 303.1 170.7 303.6 171.3 304.1 171.2 304.6 171.5 305.1 170.7 305.6 171.5 306.1 171.8 306.6 170.8 307.1 171.5 307.6 171.5 308.1 172.4 308.6 172.2 309.1 173.6 309.6 172.9 310.1 173.0 310.6 173.5 311.0 173.7 311.5 172.4 312.0 172.1 312.5 173.1 313.0 171.7 313.5 172.4 314.0 172.6 314.5 172.2 315.0 172.9 315.5 173.4 316.0 173.2 316.5 171.9 317.0 171.4 317.5 172.6 318.0 171.5 318.5 171.7 319.0 171.4 319.5 171.5 320.0 171.4" fill="none" stroke="#F0C060" stroke-width="1.65" stroke-linejoin="round" stroke-linecap="round"/>
<g font-family='"Liberation Sans", sans-serif' font-weight="bold" font-size="10" fill="#111">
<line x1="181.2" y1="185.9" x2="203.2" y2="185.9" stroke="#000000" stroke-width="1.8"/>
<text x="206.0" y="189.3">V<tspan font-size="6.9" dy="1.7">G</tspan><tspan dy="-1.7">=90V</tspan></text>
<line x1="181.2" y1="199.9" x2="203.2" y2="199.9" stroke="#FF0000" stroke-width="1.8"/>
<text x="206.0" y="203.3">V<tspan font-size="6.9" dy="1.7">G</tspan><tspan dy="-1.7">=60V</tspan></text>
<line x1="181.2" y1="213.7" x2="203.2" y2="213.7" stroke="#0000FF" stroke-width="1.8"/>
<text x="206.0" y="217.1">V<tspan font-size="6.9" dy="1.7">G</tspan><tspan dy="-1.7">=30V</tspan></text>
<line x1="181.2" y1="227.2" x2="203.2" y2="227.2" stroke="#008000" stroke-width="1.8"/>
<text x="206.0" y="230.6">V<tspan font-size="6.9" dy="1.7">G</tspan><tspan dy="-1.7">=0V</tspan></text>
<line x1="244.8" y1="185.9" x2="266.5" y2="185.9" stroke="#FF00FF" stroke-width="1.8"/>
<text x="269.8" y="189.3">V<tspan font-size="6.9" dy="1.7">G</tspan><tspan dy="-1.7">=-30V</tspan></text>
<line x1="244.8" y1="199.9" x2="266.5" y2="199.9" stroke="#7B0000" stroke-width="1.8"/>
<text x="269.8" y="203.3">V<tspan font-size="6.9" dy="1.7">G</tspan><tspan dy="-1.7">=-60V</tspan></text>
<line x1="244.8" y1="213.7" x2="266.5" y2="213.7" stroke="#F0C060" stroke-width="1.8"/>
<text x="269.8" y="217.1">V<tspan font-size="6.9" dy="1.7">G</tspan><tspan dy="-1.7">=-90V</tspan></text>
</g>
<rect x="380.7" y="25.6" width="269.3" height="215.6" fill="none" stroke="#707070" stroke-width="1"/>
<line x1="380.7" y1="25.6" x2="380.7" y2="241.2" stroke="#454545" stroke-width="1.1"/>
<line x1="380.7" y1="241.2" x2="650.0" y2="241.2" stroke="#454545" stroke-width="1.1"/>
<path d="M376.09999999999997 220.0H380.7 M376.09999999999997 176.9H380.7 M376.09999999999997 133.8H380.7 M376.09999999999997 90.7H380.7 M376.09999999999997 47.6H380.7 M378.5 198.4H380.7 M378.5 155.4H380.7 M378.5 112.3H380.7 M378.5 69.2H380.7 M378.5 26.1H380.7 M394.3 241.2v4 M434.7 241.2v4 M475.1 241.2v4 M515.6 241.2v4 M556.0 241.2v4 M596.4 241.2v4 M636.8 241.2v4 M414.5 241.2v2.2 M454.9 241.2v2.2 M495.4 241.2v2.2 M535.8 241.2v2.2 M576.2 241.2v2.2 M616.6 241.2v2.2" stroke="#454545" stroke-width="1.1" fill="none"/>
<g font-family='"Liberation Sans", sans-serif' font-weight="bold" font-size="12.4" fill="#1a1a1a">
<text x="373.5" y="223.6" text-anchor="end">10</text>
<text x="373.5" y="180.5" text-anchor="end">15</text>
<text x="373.5" y="137.4" text-anchor="end">20</text>
<text x="373.5" y="94.3" text-anchor="end">25</text>
<text x="373.5" y="51.2" text-anchor="end">30</text>
<text x="392.8" y="258" text-anchor="middle">-90</text>
<text x="433.2" y="258" text-anchor="middle">-60</text>
<text x="473.6" y="258" text-anchor="middle">-30</text>
<text x="515.6" y="258" text-anchor="middle">0</text>
<text x="556.0" y="258" text-anchor="middle">30</text>
<text x="596.4" y="258" text-anchor="middle">60</text>
<text x="636.8" y="258" text-anchor="middle">90</text>
</g>
<text x="515.2" y="275" text-anchor="middle" font-family='"Liberation Serif", serif' font-weight="bold" font-size="14" fill="#111">Pulse (V)</text>
<text transform="translate(355 132.6) rotate(-90)" text-anchor="middle" font-family='"Liberation Serif", serif' font-weight="bold" font-size="14" fill="#111">Photocurrent (nA)</text>
<path d="M390.2 240.6V213.5a4.1 4.1 0 0 1 8.2 0V240.6z" fill="#F0C060"/>
<path d="M394.3 211.5V215.0M391.7 211.5h5.2M391.7 215.0h5.2" stroke="#000" stroke-width="1.55" fill="none"/>
<path d="M430.6 240.6V199.5a4.1 4.1 0 0 1 8.2 0V240.6z" fill="#7B0000"/>
<path d="M434.7 197.2V200.6M432.1 197.2h5.2M432.1 200.6h5.2" stroke="#000" stroke-width="1.55" fill="none"/>
<path d="M471.0 240.6V168.6a4.1 4.1 0 0 1 8.2 0V240.6z" fill="#FF00FF"/>
<path d="M475.1 166.8V169.6M472.5 166.8h5.2M472.5 169.6h5.2" stroke="#000" stroke-width="1.55" fill="none"/>
<path d="M511.5 240.6V139.5a4.1 4.1 0 0 1 8.2 0V240.6z" fill="#008000"/>
<path d="M515.6 136.6V141.6M513.0 136.6h5.2M513.0 141.6h5.2" stroke="#000" stroke-width="1.55" fill="none"/>
<path d="M551.9 240.6V135.6a4.1 4.1 0 0 1 8.2 0V240.6z" fill="#0000FF"/>
<path d="M556.0 131.6V138.0M553.4 131.6h5.2M553.4 138.0h5.2" stroke="#000" stroke-width="1.55" fill="none"/>
<path d="M592.3 240.6V87.1a4.1 4.1 0 0 1 8.2 0V240.6z" fill="#FF0000"/>
<path d="M596.4 80.4V94.5M593.8 80.4h5.2M593.8 94.5h5.2" stroke="#000" stroke-width="1.55" fill="none"/>
<path d="M632.7 240.6V63.9a4.1 4.1 0 0 1 8.2 0V240.6z" fill="#000000"/>
<path d="M636.8 57.8V63.0M634.2 57.8h5.2M634.2 63.0h5.2" stroke="#000" stroke-width="1.55" fill="none"/>
<g font-family='"Liberation Serif", serif' font-weight="bold" font-size="16" fill="#111">
<text x="422.5" y="130.4" text-anchor="middle">IP</text>
<text x="577.6" y="65.8" text-anchor="middle">IP</text>
</g>
<line x1="412.0" y1="142.4" x2="428.0" y2="142.4" stroke="#000" stroke-width="1.3"/><path d="M434.0 142.4L425.4 146.3L428.0 142.4L425.4 138.5z" fill="#000"/>
<line x1="586.0" y1="75.9" x2="570.5" y2="75.9" stroke="#000" stroke-width="1.3"/><path d="M564.5 75.9L573.1 72.0L570.5 75.9L573.1 79.8z" fill="#000"/>
<line x1="511.0" y1="118.0" x2="517.8" y2="118.0" stroke="#000" stroke-width="1.3"/><path d="M523.8 118.0L515.2 121.9L517.8 118.0L515.2 114.1z" fill="#000"/>
<line x1="511.0" y1="118.0" x2="505.5" y2="118.0" stroke="#000" stroke-width="1.3"/><path d="M499.5 118.0L508.1 114.1L505.5 118.0L508.1 121.9z" fill="#000"/>
<g font-family='"Liberation Serif", serif' font-weight="bold" font-size="18.5" fill="#000">
<text x="0.5" y="12.8">(a)</text>
<text x="347.5" y="17">(b)</text>
<text x="0.3" y="322">(c)</text>
<text x="356" y="322">(d)</text>
</g>
<defs>
<linearGradient id="gr" x1="0" x2="1" y1="0" y2="0"><stop offset="0" stop-color="#ff1a1a" stop-opacity="0"/><stop offset="0.55" stop-color="#ff1a1a" stop-opacity="0.85"/><stop offset="1" stop-color="#ff0000"/></linearGradient>
<linearGradient id="gl" x1="1" x2="0" y1="0" y2="0"><stop offset="0" stop-color="#ff1a1a" stop-opacity="0"/><stop offset="0.55" stop-color="#ff1a1a" stop-opacity="0.85"/><stop offset="1" stop-color="#ff0000"/></linearGradient>
<linearGradient id="gd" x1="0" x2="0" y1="0" y2="1"><stop offset="0" stop-color="#8db8e6" stop-opacity="0.75"/><stop offset="0.1" stop-color="#c9b6dc" stop-opacity="0.6"/><stop offset="0.28" stop-color="#ff7a8a" stop-opacity="0.75"/><stop offset="0.55" stop-color="#ff2a2a"/><stop offset="1" stop-color="#ff0000"/></linearGradient>
<linearGradient id="gu" x1="0" x2="0" y1="1" y2="0"><stop offset="0" stop-color="#8db8e6" stop-opacity="0.75"/><stop offset="0.1" stop-color="#c9b6dc" stop-opacity="0.6"/><stop offset="0.28" stop-color="#ff7a8a" stop-opacity="0.75"/><stop offset="0.55" stop-color="#ff2a2a"/><stop offset="1" stop-color="#ff0000"/></linearGradient>
</defs>
<rect x="48.5" y="408.4" width="260.8" height="32.4" fill="#7030A0"/>
<rect x="48.5" y="440.7" width="260.8" height="10.9" fill="#595959"/>
<text x="178.9" y="428.9" text-anchor="middle" font-family='"Liberation Serif", serif' font-weight="bold" font-size="12.5" fill="#fff">SiO<tspan font-size="8" dy="2.6">2</tspan></text>
<rect x="48.5" y="365.0" width="24.9" height="43.6" fill="#BF9000" stroke="#6fa8dc" stroke-width="0.7"/>
<text transform="translate(64.9 387.2) rotate(-90)" text-anchor="middle" font-family='"Liberation Serif", serif' font-weight="bold" font-size="12.6" fill="#000">Source</text>
<rect x="285.0" y="365.0" width="24.3" height="43.6" fill="#BF9000" stroke="#6fa8dc" stroke-width="0.7"/>
<text transform="translate(301.0 387.2) rotate(-90)" text-anchor="middle" font-family='"Liberation Serif", serif' font-weight="bold" font-size="12.6" fill="#000">Drain</text>
<path d="M39.0 477.5V342.0H318.3V364.6M312.2 364.6h11.6M315.1 370.2h6.4M318.3 370.2V383.7H309.3M39.0 385.4H48.5M33.6 477.6h10.8M35.6 480h6.8M37.4 482.3h3.2" fill="none" stroke="#000" stroke-width="1.25"/>
<ellipse cx="93.7" cy="365.3" rx="13.7" ry="8.1" fill="#fff" stroke="#000" stroke-width="0.9" stroke-dasharray="1 1.1"/>
<circle cx="87.6" cy="365.3" r="4.4" fill="#5B9BD5"/>
<path d="M86.1 365.9h3" stroke="#000" stroke-width="1.5"/>
<circle cx="99.4" cy="365.3" r="4.5" fill="#FF0000"/>
<path d="M96.7 365.3h5.4M99.4 362.6v5.4" stroke="#000" stroke-width="1.5"/>
<ellipse cx="127.5" cy="365.3" rx="13.7" ry="8.1" fill="#fff" stroke="#000" stroke-width="0.9" stroke-dasharray="1 1.1"/>
<circle cx="121.4" cy="365.3" r="4.4" fill="#5B9BD5"/>
<path d="M119.9 365.9h3" stroke="#000" stroke-width="1.5"/>
<circle cx="133.2" cy="365.3" r="4.5" fill="#FF0000"/>
<path d="M130.5 365.3h5.4M133.2 362.6v5.4" stroke="#000" stroke-width="1.5"/>
<ellipse cx="161.3" cy="365.3" rx="13.7" ry="8.1" fill="#fff" stroke="#000" stroke-width="0.9" stroke-dasharray="1 1.1"/>
<circle cx="155.2" cy="365.3" r="4.4" fill="#5B9BD5"/>
<path d="M153.7 365.9h3" stroke="#000" stroke-width="1.5"/>
<circle cx="167.0" cy="365.3" r="4.5" fill="#FF0000"/>
<path d="M164.3 365.3h5.4M167.0 362.6v5.4" stroke="#000" stroke-width="1.5"/>
<ellipse cx="195.0" cy="365.3" rx="13.7" ry="8.1" fill="#fff" stroke="#000" stroke-width="0.9" stroke-dasharray="1 1.1"/>
<circle cx="188.9" cy="365.3" r="4.4" fill="#5B9BD5"/>
<path d="M187.4 365.9h3" stroke="#000" stroke-width="1.5"/>
<circle cx="200.7" cy="365.3" r="4.5" fill="#FF0000"/>
<path d="M198.0 365.3h5.4M200.7 362.6v5.4" stroke="#000" stroke-width="1.5"/>
<ellipse cx="228.8" cy="365.3" rx="13.7" ry="8.1" fill="#fff" stroke="#000" stroke-width="0.9" stroke-dasharray="1 1.1"/>
<circle cx="222.7" cy="365.3" r="4.4" fill="#5B9BD5"/>
<path d="M221.2 365.9h3" stroke="#000" stroke-width="1.5"/>
<circle cx="234.5" cy="365.3" r="4.5" fill="#FF0000"/>
<path d="M231.8 365.3h5.4M234.5 362.6v5.4" stroke="#000" stroke-width="1.5"/>
<ellipse cx="262.6" cy="365.3" rx="13.7" ry="8.1" fill="#fff" stroke="#000" stroke-width="0.9" stroke-dasharray="1 1.1"/>
<circle cx="256.5" cy="365.3" r="4.4" fill="#5B9BD5"/>
<path d="M255.0 365.9h3" stroke="#000" stroke-width="1.5"/>
<circle cx="268.3" cy="365.3" r="4.5" fill="#FF0000"/>
<path d="M265.6 365.3h5.4M268.3 362.6v5.4" stroke="#000" stroke-width="1.5"/>
<ellipse cx="86.1" cy="392.6" rx="8.1" ry="13.9" fill="#fff" stroke="#000" stroke-width="0.9" stroke-dasharray="1 1.1"/>
<circle cx="86.1" cy="385.6" r="4.4" fill="#5B9BD5"/>
<path d="M84.6 386.2h3" stroke="#000" stroke-width="1.5"/>
<circle cx="86.1" cy="398.4" r="4.5" fill="#FF0000"/>
<path d="M83.4 398.4h5.4M86.1 395.7v5.4" stroke="#000" stroke-width="1.5"/>
<ellipse cx="106.2" cy="393.7" rx="8.1" ry="13.9" fill="#fff" stroke="#000" stroke-width="0.9" stroke-dasharray="1 1.1"/>
<circle cx="106.2" cy="386.7" r="4.4" fill="#5B9BD5"/>
<path d="M104.7 387.3h3" stroke="#000" stroke-width="1.5"/>
<circle cx="106.2" cy="399.5" r="4.5" fill="#FF0000"/>
<path d="M103.5 399.5h5.4M106.2 396.8v5.4" stroke="#000" stroke-width="1.5"/>
<ellipse cx="126.5" cy="393.1" rx="8.1" ry="13.9" fill="#fff" stroke="#000" stroke-width="0.9" stroke-dasharray="1 1.1"/>
<circle cx="126.5" cy="386.1" r="4.4" fill="#5B9BD5"/>
<path d="M125.0 386.7h3" stroke="#000" stroke-width="1.5"/>
<circle cx="126.5" cy="398.9" r="4.5" fill="#FF0000"/>
<path d="M123.8 398.9h5.4M126.5 396.2v5.4" stroke="#000" stroke-width="1.5"/>
<ellipse cx="146.6" cy="392.6" rx="8.1" ry="13.9" fill="#fff" stroke="#000" stroke-width="0.9" stroke-dasharray="1 1.1"/>
<circle cx="146.6" cy="385.6" r="4.4" fill="#5B9BD5"/>
<path d="M145.1 386.2h3" stroke="#000" stroke-width="1.5"/>
<circle cx="146.6" cy="398.4" r="4.5" fill="#FF0000"/>
<path d="M143.9 398.4h5.4M146.6 395.7v5.4" stroke="#000" stroke-width="1.5"/>
<ellipse cx="167.0" cy="393.1" rx="8.1" ry="13.9" fill="#fff" stroke="#000" stroke-width="0.9" stroke-dasharray="1 1.1"/>
<circle cx="167.0" cy="386.1" r="4.4" fill="#5B9BD5"/>
<path d="M165.5 386.7h3" stroke="#000" stroke-width="1.5"/>
<circle cx="167.0" cy="398.9" r="4.5" fill="#FF0000"/>
<path d="M164.3 398.9h5.4M167.0 396.2v5.4" stroke="#000" stroke-width="1.5"/>
<ellipse cx="187.3" cy="392.6" rx="8.1" ry="13.9" fill="#fff" stroke="#000" stroke-width="0.9" stroke-dasharray="1 1.1"/>
<circle cx="187.3" cy="385.6" r="4.4" fill="#5B9BD5"/>
<path d="M185.8 386.2h3" stroke="#000" stroke-width="1.5"/>
<circle cx="187.3" cy="398.4" r="4.5" fill="#FF0000"/>
<path d="M184.6 398.4h5.4M187.3 395.7v5.4" stroke="#000" stroke-width="1.5"/>
<ellipse cx="208.0" cy="392.6" rx="8.1" ry="13.9" fill="#fff" stroke="#000" stroke-width="0.9" stroke-dasharray="1 1.1"/>
<circle cx="208.0" cy="385.6" r="4.4" fill="#5B9BD5"/>
<path d="M206.5 386.2h3" stroke="#000" stroke-width="1.5"/>
<circle cx="208.0" cy="398.4" r="4.5" fill="#FF0000"/>
<path d="M205.3 398.4h5.4M208.0 395.7v5.4" stroke="#000" stroke-width="1.5"/>
<ellipse cx="228.3" cy="392.6" rx="8.1" ry="13.9" fill="#fff" stroke="#000" stroke-width="0.9" stroke-dasharray="1 1.1"/>
<circle cx="228.3" cy="385.6" r="4.4" fill="#5B9BD5"/>
<path d="M226.8 386.2h3" stroke="#000" stroke-width="1.5"/>
<circle cx="228.3" cy="398.4" r="4.5" fill="#FF0000"/>
<path d="M225.6 398.4h5.4M228.3 395.7v5.4" stroke="#000" stroke-width="1.5"/>
<ellipse cx="248.0" cy="392.6" rx="8.1" ry="13.9" fill="#fff" stroke="#000" stroke-width="0.9" stroke-dasharray="1 1.1"/>
<circle cx="248.0" cy="385.6" r="4.4" fill="#5B9BD5"/>
<path d="M246.5 386.2h3" stroke="#000" stroke-width="1.5"/>
<circle cx="248.0" cy="398.4" r="4.5" fill="#FF0000"/>
<path d="M245.3 398.4h5.4M248.0 395.7v5.4" stroke="#000" stroke-width="1.5"/>
<ellipse cx="268.3" cy="392.6" rx="8.1" ry="13.9" fill="#fff" stroke="#000" stroke-width="0.9" stroke-dasharray="1 1.1"/>
<circle cx="268.3" cy="385.6" r="4.4" fill="#5B9BD5"/>
<path d="M266.8 386.2h3" stroke="#000" stroke-width="1.5"/>
<circle cx="268.3" cy="398.4" r="4.5" fill="#FF0000"/>
<path d="M265.6 398.4h5.4M268.3 395.7v5.4" stroke="#000" stroke-width="1.5"/>
<rect x="390.8" y="408.4" width="259.7" height="32.4" fill="#7030A0"/>
<rect x="390.8" y="440.7" width="259.7" height="10.9" fill="#595959"/>
<text x="520.6" y="428.9" text-anchor="middle" font-family='"Liberation Serif", serif' font-weight="bold" font-size="12.5" fill="#fff">SiO<tspan font-size="8" dy="2.6">2</tspan></text>
<rect x="390.8" y="366.0" width="24.9" height="42.6" fill="#BF9000" stroke="#6fa8dc" stroke-width="0.7"/>
<text transform="translate(407.1 387.7) rotate(-90)" text-anchor="middle" font-family='"Liberation Serif", serif' font-weight="bold" font-size="12.6" fill="#000">Source</text>
<rect x="626.2" y="366.0" width="24.3" height="42.6" fill="#BF9000" stroke="#6fa8dc" stroke-width="0.7"/>
<text transform="translate(642.2 387.7) rotate(-90)" text-anchor="middle" font-family='"Liberation Serif", serif' font-weight="bold" font-size="12.6" fill="#000">Drain</text>
<path d="M382.0 477.5V342.8H658.8V364.6M652.7 364.6h11.6M655.6 370.2h6.4M658.8 370.2V383.7H650.5M382.0 385.4H390.8M376.6 477.6h10.8M378.6 480h6.8M380.4 482.3h3.2" fill="none" stroke="#000" stroke-width="1.25"/>
<ellipse cx="436.0" cy="366.0" rx="13.7" ry="8.1" fill="#fff" stroke="#000" stroke-width="0.9" stroke-dasharray="1 1.1"/>
<circle cx="442.1" cy="366.0" r="4.4" fill="#5B9BD5"/>
<path d="M440.6 366.6h3" stroke="#000" stroke-width="1.5"/>
<circle cx="430.3" cy="366.0" r="4.5" fill="#FF0000"/>
<path d="M427.6 366.0h5.4M430.3 363.3v5.4" stroke="#000" stroke-width="1.5"/>
<ellipse cx="469.8" cy="366.0" rx="13.7" ry="8.1" fill="#fff" stroke="#000" stroke-width="0.9" stroke-dasharray="1 1.1"/>
<circle cx="475.9" cy="366.0" r="4.4" fill="#5B9BD5"/>
<path d="M474.4 366.6h3" stroke="#000" stroke-width="1.5"/>
<circle cx="464.1" cy="366.0" r="4.5" fill="#FF0000"/>
<path d="M461.4 366.0h5.4M464.1 363.3v5.4" stroke="#000" stroke-width="1.5"/>
<ellipse cx="503.6" cy="366.0" rx="13.7" ry="8.1" fill="#fff" stroke="#000" stroke-width="0.9" stroke-dasharray="1 1.1"/>
<circle cx="509.7" cy="366.0" r="4.4" fill="#5B9BD5"/>
<path d="M508.2 366.6h3" stroke="#000" stroke-width="1.5"/>
<circle cx="497.9" cy="366.0" r="4.5" fill="#FF0000"/>
<path d="M495.2 366.0h5.4M497.9 363.3v5.4" stroke="#000" stroke-width="1.5"/>
<ellipse cx="537.3" cy="366.0" rx="13.7" ry="8.1" fill="#fff" stroke="#000" stroke-width="0.9" stroke-dasharray="1 1.1"/>
<circle cx="543.4" cy="366.0" r="4.4" fill="#5B9BD5"/>
<path d="M541.9 366.6h3" stroke="#000" stroke-width="1.5"/>
<circle cx="531.6" cy="366.0" r="4.5" fill="#FF0000"/>
<path d="M528.9 366.0h5.4M531.6 363.3v5.4" stroke="#000" stroke-width="1.5"/>
<ellipse cx="571.1" cy="366.0" rx="13.7" ry="8.1" fill="#fff" stroke="#000" stroke-width="0.9" stroke-dasharray="1 1.1"/>
<circle cx="577.2" cy="366.0" r="4.4" fill="#5B9BD5"/>
<path d="M575.7 366.6h3" stroke="#000" stroke-width="1.5"/>
<circle cx="565.4" cy="366.0" r="4.5" fill="#FF0000"/>
<path d="M562.7 366.0h5.4M565.4 363.3v5.4" stroke="#000" stroke-width="1.5"/>
<ellipse cx="604.9" cy="366.0" rx="13.7" ry="8.1" fill="#fff" stroke="#000" stroke-width="0.9" stroke-dasharray="1 1.1"/>
<circle cx="611.0" cy="366.0" r="4.4" fill="#5B9BD5"/>
<path d="M609.5 366.6h3" stroke="#000" stroke-width="1.5"/>
<circle cx="599.2" cy="366.0" r="4.5" fill="#FF0000"/>
<path d="M596.5 366.0h5.4M599.2 363.3v5.4" stroke="#000" stroke-width="1.5"/>
<ellipse cx="428.1" cy="392.6" rx="8.1" ry="13.9" fill="#fff" stroke="#000" stroke-width="0.9" stroke-dasharray="1 1.1"/>
<circle cx="428.1" cy="387.8" r="4.5" fill="#FF0000"/>
<path d="M425.4 387.8h5.4M428.1 385.1v5.4" stroke="#000" stroke-width="1.5"/>
<circle cx="428.1" cy="400.4" r="4.4" fill="#5B9BD5"/>
<path d="M426.6 401.0h3" stroke="#000" stroke-width="1.5"/>
<ellipse cx="448.2" cy="393.7" rx="8.1" ry="13.9" fill="#fff" stroke="#000" stroke-width="0.9" stroke-dasharray="1 1.1"/>
<circle cx="448.2" cy="388.9" r="4.5" fill="#FF0000"/>
<path d="M445.5 388.9h5.4M448.2 386.2v5.4" stroke="#000" stroke-width="1.5"/>
<circle cx="448.2" cy="401.5" r="4.4" fill="#5B9BD5"/>
<path d="M446.7 402.1h3" stroke="#000" stroke-width="1.5"/>
<ellipse cx="468.5" cy="393.1" rx="8.1" ry="13.9" fill="#fff" stroke="#000" stroke-width="0.9" stroke-dasharray="1 1.1"/>
<circle cx="468.5" cy="388.3" r="4.5" fill="#FF0000"/>
<path d="M465.8 388.3h5.4M468.5 385.6v5.4" stroke="#000" stroke-width="1.5"/>
<circle cx="468.5" cy="400.9" r="4.4" fill="#5B9BD5"/>
<path d="M467.0 401.5h3" stroke="#000" stroke-width="1.5"/>
<ellipse cx="488.6" cy="392.6" rx="8.1" ry="13.9" fill="#fff" stroke="#000" stroke-width="0.9" stroke-dasharray="1 1.1"/>
<circle cx="488.6" cy="387.8" r="4.5" fill="#FF0000"/>
<path d="M485.9 387.8h5.4M488.6 385.1v5.4" stroke="#000" stroke-width="1.5"/>
<circle cx="488.6" cy="400.4" r="4.4" fill="#5B9BD5"/>
<path d="M487.1 401.0h3" stroke="#000" stroke-width="1.5"/>
<ellipse cx="509.0" cy="393.1" rx="8.1" ry="13.9" fill="#fff" stroke="#000" stroke-width="0.9" stroke-dasharray="1 1.1"/>
<circle cx="509.0" cy="388.3" r="4.5" fill="#FF0000"/>
<path d="M506.3 388.3h5.4M509.0 385.6v5.4" stroke="#000" stroke-width="1.5"/>
<circle cx="509.0" cy="400.9" r="4.4" fill="#5B9BD5"/>
<path d="M507.5 401.5h3" stroke="#000" stroke-width="1.5"/>
<ellipse cx="529.3" cy="392.6" rx="8.1" ry="13.9" fill="#fff" stroke="#000" stroke-width="0.9" stroke-dasharray="1 1.1"/>
<circle cx="529.3" cy="387.8" r="4.5" fill="#FF0000"/>
<path d="M526.6 387.8h5.4M529.3 385.1v5.4" stroke="#000" stroke-width="1.5"/>
<circle cx="529.3" cy="400.4" r="4.4" fill="#5B9BD5"/>
<path d="M527.8 401.0h3" stroke="#000" stroke-width="1.5"/>
<ellipse cx="550.0" cy="392.6" rx="8.1" ry="13.9" fill="#fff" stroke="#000" stroke-width="0.9" stroke-dasharray="1 1.1"/>
<circle cx="550.0" cy="387.8" r="4.5" fill="#FF0000"/>
<path d="M547.3 387.8h5.4M550.0 385.1v5.4" stroke="#000" stroke-width="1.5"/>
<circle cx="550.0" cy="400.4" r="4.4" fill="#5B9BD5"/>
<path d="M548.5 401.0h3" stroke="#000" stroke-width="1.5"/>
<ellipse cx="570.3" cy="392.6" rx="8.1" ry="13.9" fill="#fff" stroke="#000" stroke-width="0.9" stroke-dasharray="1 1.1"/>
<circle cx="570.3" cy="387.8" r="4.5" fill="#FF0000"/>
<path d="M567.6 387.8h5.4M570.3 385.1v5.4" stroke="#000" stroke-width="1.5"/>
<circle cx="570.3" cy="400.4" r="4.4" fill="#5B9BD5"/>
<path d="M568.8 401.0h3" stroke="#000" stroke-width="1.5"/>
<ellipse cx="590.0" cy="392.6" rx="8.1" ry="13.9" fill="#fff" stroke="#000" stroke-width="0.9" stroke-dasharray="1 1.1"/>
<circle cx="590.0" cy="387.8" r="4.5" fill="#FF0000"/>
<path d="M587.3 387.8h5.4M590.0 385.1v5.4" stroke="#000" stroke-width="1.5"/>
<circle cx="590.0" cy="400.4" r="4.4" fill="#5B9BD5"/>
<path d="M588.5 401.0h3" stroke="#000" stroke-width="1.5"/>
<ellipse cx="610.3" cy="392.6" rx="8.1" ry="13.9" fill="#fff" stroke="#000" stroke-width="0.9" stroke-dasharray="1 1.1"/>
<circle cx="610.3" cy="387.8" r="4.5" fill="#FF0000"/>
<path d="M607.6 387.8h5.4M610.3 385.1v5.4" stroke="#000" stroke-width="1.5"/>
<circle cx="610.3" cy="400.4" r="4.4" fill="#5B9BD5"/>
<path d="M608.8 401.0h3" stroke="#000" stroke-width="1.5"/>
<path d="M135.8 309.0c0.8 6.5 3.6 10.6 8.2 12.2c4.8 1.6 8.4 1.0 11.2 6.2c1.0 1.9 1.8 3.6 2.6 5.6" fill="none" stroke="#92D050" stroke-width="2.0" stroke-linecap="round"/>
<path d="M160.1 337.2l-4.8 -5.6l3.0 0.7l3.6 -2.0z" fill="#92D050" stroke="#92D050" stroke-width="0.9" stroke-linejoin="round"/>
<path d="M150.0 309.0c0.8 6.5 3.6 10.6 8.2 12.2c4.8 1.6 8.4 1.0 11.2 6.2c1.0 1.9 1.8 3.6 2.6 5.6" fill="none" stroke="#92D050" stroke-width="2.0" stroke-linecap="round"/>
<path d="M174.3 337.2l-4.8 -5.6l3.0 0.7l3.6 -2.0z" fill="#92D050" stroke="#92D050" stroke-width="0.9" stroke-linejoin="round"/>
<path d="M162.9 309.0c0.8 6.5 3.6 10.6 8.2 12.2c4.8 1.6 8.4 1.0 11.2 6.2c1.0 1.9 1.8 3.6 2.6 5.6" fill="none" stroke="#92D050" stroke-width="2.0" stroke-linecap="round"/>
<path d="M187.2 337.2l-4.8 -5.6l3.0 0.7l3.6 -2.0z" fill="#92D050" stroke="#92D050" stroke-width="0.9" stroke-linejoin="round"/>
<path d="M496.8 309.0c0.8 6.5 3.6 10.6 8.2 12.2c4.8 1.6 8.4 1.0 11.2 6.2c1.0 1.9 1.8 3.6 2.6 5.6" fill="none" stroke="#92D050" stroke-width="2.0" stroke-linecap="round"/>
<path d="M521.1 337.2l-4.8 -5.6l3.0 0.7l3.6 -2.0z" fill="#92D050" stroke="#92D050" stroke-width="0.9" stroke-linejoin="round"/>
<path d="M510.8 309.0c0.8 6.5 3.6 10.6 8.2 12.2c4.8 1.6 8.4 1.0 11.2 6.2c1.0 1.9 1.8 3.6 2.6 5.6" fill="none" stroke="#92D050" stroke-width="2.0" stroke-linecap="round"/>
<path d="M535.1 337.2l-4.8 -5.6l3.0 0.7l3.6 -2.0z" fill="#92D050" stroke="#92D050" stroke-width="0.9" stroke-linejoin="round"/>
<path d="M523.6 309.0c0.8 6.5 3.6 10.6 8.2 12.2c4.8 1.6 8.4 1.0 11.2 6.2c1.0 1.9 1.8 3.6 2.6 5.6" fill="none" stroke="#92D050" stroke-width="2.0" stroke-linecap="round"/>
<path d="M547.9 337.2l-4.8 -5.6l3.0 0.7l3.6 -2.0z" fill="#92D050" stroke="#92D050" stroke-width="0.9" stroke-linejoin="round"/>
<line x1="116.3" y1="346.5" x2="104.8" y2="346.5" stroke="#2EAD5E" stroke-width="1.6"/><path d="M100.5 346.5L106.0 343.9L104.8 346.5L106.0 349.1z" fill="#2EAD5E"/>
<text x="103.6" y="358.3" font-family='"Liberation Serif", serif' font-weight="bold" font-size="11.2" fill="#2EAD5E">E<tspan font-size="6.6" dy="1.6">d</tspan></text>
<line x1="157.6" y1="351.7" x2="146.1" y2="354.9" stroke="#ED7D31" stroke-width="1.55" stroke-dasharray="3.4 1.8"/>
<path d="M141.9 356.0L146.4 352.2L147.8 357.0z" fill="#ED7D31"/>
<line x1="195.3" y1="352.2" x2="206.0" y2="354.9" stroke="#ED7D31" stroke-width="1.55" stroke-dasharray="3.4 1.8"/>
<path d="M210.2 356.0L204.3 357.1L205.6 352.2z" fill="#ED7D31"/>
<text x="160" y="354.5" font-family='"Liberation Serif", serif' font-weight="bold" font-size="10.4" fill="#000">e<tspan font-size="6.5" dy="-4.0">-</tspan></text>
<text x="186.5" y="354.5" font-family='"Liberation Serif", serif' font-weight="bold" font-size="10.4" fill="#000">h<tspan font-size="6.5" dy="-4.0">+</tspan></text>
<line x1="256.8" y1="328.7" x2="267.9" y2="328.7" stroke="#000" stroke-width="1.4"/><path d="M272.2 328.7L266.7 331.2L267.9 328.7L266.7 326.2z" fill="#000"/>
<text x="259.3" y="338.6" font-family='"Liberation Serif", serif' font-weight="bold" font-size="10.5" fill="#000">E<tspan font-size="7.4" dy="1.4">a</tspan></text>
<path d="M287.3 323.1H315.6L313.2 319.3L325.2 325.1L313.2 331.2L315.6 327.1H287.3z" fill="url(#gr)"/>
<text x="330.2" y="331" font-family='"Liberation Serif", serif' font-weight="bold" font-size="15.5" fill="#FF0000">P</text>
<path d="M333.1 338.6V367.6L328.6 365.6L335.3 377.0L342.0 365.6L337.5 367.6V338.6z" fill="url(#gd)"/>
<line x1="445.5" y1="346.5" x2="455.7" y2="346.5" stroke="#1F1FFF" stroke-width="1.6"/><path d="M460.0 346.5L454.5 349.1L455.7 346.5L454.5 343.9z" fill="#1F1FFF"/>
<text x="447.2" y="358.3" font-family='"Liberation Serif", serif' font-weight="bold" font-size="11.2" fill="#1F1FFF">E<tspan font-size="6.6" dy="1.6">d</tspan></text>
<line x1="517.8" y1="350.8" x2="477.4" y2="352.7" stroke="#ED7D31" stroke-width="1.55" stroke-dasharray="3.4 1.8"/>
<path d="M473.1 352.9L478.4 350.1L478.6 355.1z" fill="#ED7D31"/>
<line x1="557.2" y1="350.8" x2="598.9" y2="352.4" stroke="#ED7D31" stroke-width="1.55" stroke-dasharray="3.4 1.8"/>
<path d="M603.2 352.6L597.7 354.9L597.9 349.9z" fill="#ED7D31"/>
<text x="521" y="352.7" font-family='"Liberation Serif", serif' font-weight="bold" font-size="10.4" fill="#000">e<tspan font-size="6.5" dy="-4.0">-</tspan></text>
<text x="547.2" y="353.4" font-family='"Liberation Serif", serif' font-weight="bold" font-size="10.4" fill="#000">h<tspan font-size="6.5" dy="-4.0">+</tspan></text>
<line x1="597.0" y1="327.4" x2="608.3" y2="327.4" stroke="#000" stroke-width="1.4"/><path d="M612.6 327.4L607.1 329.9L608.3 327.4L607.1 324.9z" fill="#000"/>
<text x="600.3" y="338.3" font-family='"Liberation Serif", serif' font-weight="bold" font-size="10.5" fill="#000">E<tspan font-size="7.4" dy="1.4">a</tspan></text>
<path d="M665 322.6H637.3L639.8 318.8L627.5 324.6L639.8 330.9L637.3 326.6H665z" fill="url(#gl)"/>
<text x="673.8" y="331.6" font-family='"Liberation Serif", serif' font-weight="bold" font-size="15.5" fill="#FF0000">P</text>
<path d="M676.4 377.8V349.8L671.9 352.6L678.6 340.5L685.3 352.6L680.8 349.8V377.8z" fill="url(#gu)"/>
</svg></body></html>
